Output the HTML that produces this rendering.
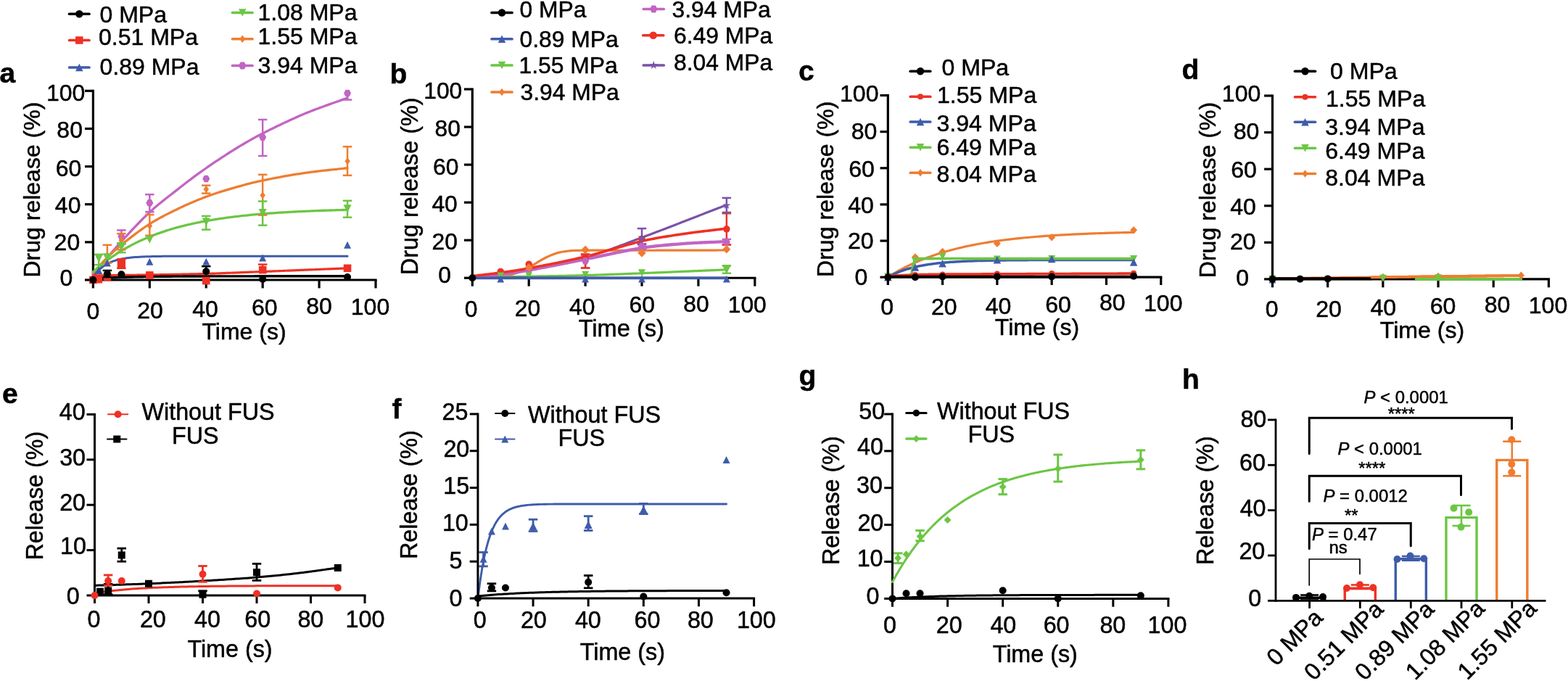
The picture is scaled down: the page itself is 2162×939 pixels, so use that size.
<!DOCTYPE html>
<html lang="en">
<head>
<meta charset="utf-8">
<title>Drug release under focused ultrasound</title>
<style>
html,body{margin:0;padding:0;background:#fff;}
body{width:2162px;height:939px;overflow:hidden;}
svg{display:block;}
svg text{font-family:"Liberation Sans", sans-serif;fill:#000;stroke:#000;stroke-width:0.5px;stroke-linejoin:round;}
</style>
</head>
<body>
<svg width="2162" height="939" viewBox="0 0 2162 939">
<rect x="0" y="0" width="2162" height="939" fill="#ffffff"/>
<line x1="128.4" y1="123.7" x2="128.4" y2="387.6" stroke="#000000" stroke-width="3.2" stroke-linecap="butt"/>
<line x1="126.8" y1="386" x2="519.6" y2="386" stroke="#000000" stroke-width="3.2" stroke-linecap="butt"/>
<line x1="117" y1="386" x2="128.4" y2="386" stroke="#000000" stroke-width="3.2" stroke-linecap="butt"/>
<line x1="117" y1="333.86" x2="128.4" y2="333.86" stroke="#000000" stroke-width="3.2" stroke-linecap="butt"/>
<line x1="117" y1="281.72" x2="128.4" y2="281.72" stroke="#000000" stroke-width="3.2" stroke-linecap="butt"/>
<line x1="117" y1="229.58" x2="128.4" y2="229.58" stroke="#000000" stroke-width="3.2" stroke-linecap="butt"/>
<line x1="117" y1="177.44" x2="128.4" y2="177.44" stroke="#000000" stroke-width="3.2" stroke-linecap="butt"/>
<line x1="117" y1="125.3" x2="128.4" y2="125.3" stroke="#000000" stroke-width="3.2" stroke-linecap="butt"/>
<line x1="128.4" y1="386" x2="128.4" y2="397.4" stroke="#000000" stroke-width="3.2" stroke-linecap="butt"/>
<line x1="206.32" y1="386" x2="206.32" y2="397.4" stroke="#000000" stroke-width="3.2" stroke-linecap="butt"/>
<line x1="284.24" y1="386" x2="284.24" y2="397.4" stroke="#000000" stroke-width="3.2" stroke-linecap="butt"/>
<line x1="362.16" y1="386" x2="362.16" y2="397.4" stroke="#000000" stroke-width="3.2" stroke-linecap="butt"/>
<line x1="440.08" y1="386" x2="440.08" y2="397.4" stroke="#000000" stroke-width="3.2" stroke-linecap="butt"/>
<line x1="518" y1="386" x2="518" y2="397.4" stroke="#000000" stroke-width="3.2" stroke-linecap="butt"/>
<path d="M128.4,378.18 L131.32,374.78 L134.24,371.37 L137.17,367.94 L140.09,364.5 L143.01,361.06 L145.93,357.62 L148.85,354.19 L151.78,350.78 L154.7,347.39 L157.62,344.02 L160.54,340.69 L163.46,337.4 L166.39,334.15 L169.31,330.94 L172.23,327.74 L175.15,324.56 L178.07,321.39 L181,318.25 L183.92,315.13 L186.84,312.04 L189.76,308.99 L192.68,305.99 L195.61,303.03 L198.53,300.13 L201.45,297.28 L204.37,294.49 L207.29,291.77 L210.22,289.13 L213.14,286.56 L216.06,284.06 L218.98,281.61 L221.9,279.21 L224.83,276.86 L227.75,274.54 L230.67,272.24 L233.59,269.96 L236.51,267.69 L239.44,265.42 L242.36,263.15 L245.28,260.86 L248.2,258.57 L251.12,256.29 L254.05,254.02 L256.97,251.77 L259.89,249.54 L262.81,247.32 L265.73,245.12 L268.66,242.95 L271.58,240.8 L274.5,238.68 L277.42,236.58 L280.34,234.52 L283.27,232.48 L286.19,230.45 L289.11,228.43 L292.03,226.43 L294.95,224.44 L297.88,222.47 L300.8,220.52 L303.72,218.58 L306.64,216.66 L309.56,214.76 L312.49,212.87 L315.41,211 L318.33,209.16 L321.25,207.33 L324.17,205.52 L327.1,203.72 L330.02,201.95 L332.94,200.2 L335.86,198.46 L338.78,196.75 L341.71,195.06 L344.63,193.39 L347.55,191.75 L350.47,190.14 L353.39,188.55 L356.32,186.99 L359.24,185.46 L362.16,183.96 L365.08,182.48 L368,181 L370.93,179.54 L373.85,178.09 L376.77,176.65 L379.69,175.22 L382.61,173.8 L385.54,172.39 L388.46,171 L391.38,169.62 L394.3,168.25 L397.22,166.9 L400.15,165.55 L403.07,164.23 L405.99,162.91 L408.91,161.62 L411.83,160.33 L414.76,159.07 L417.68,157.82 L420.6,156.58 L423.52,155.37 L426.44,154.19 L429.37,153.03 L432.29,151.89 L435.21,150.77 L438.13,149.67 L441.05,148.59 L443.98,147.52 L446.9,146.46 L449.82,145.41 L452.74,144.36 L455.66,143.33 L458.59,142.29 L461.51,141.26 L464.43,140.22 L467.35,139.18 L470.27,138.14 L473.2,137.08 L476.12,136.02 L479.04,134.95" fill="none" stroke="#c264c4" stroke-width="3.3" stroke-linecap="round" stroke-linejoin="round"/>
<path d="M128.4,376.09 L131.32,372.94 L134.24,369.74 L137.17,366.53 L140.09,363.35 L143.01,360.23 L145.93,357.2 L148.85,354.28 L151.78,351.42 L154.7,348.62 L157.62,345.9 L160.54,343.26 L163.46,340.72 L166.39,338.29 L169.31,335.96 L172.23,333.66 L175.15,331.36 L178.07,329.08 L181,326.83 L183.92,324.6 L186.84,322.4 L189.76,320.24 L192.68,318.11 L195.61,316.03 L198.53,314 L201.45,312.01 L204.37,310.08 L207.29,308.22 L210.22,306.41 L213.14,304.66 L216.06,302.97 L218.98,301.33 L221.9,299.73 L224.83,298.17 L227.75,296.64 L230.67,295.15 L233.59,293.68 L236.51,292.23 L239.44,290.8 L242.36,289.39 L245.28,287.98 L248.2,286.58 L251.12,285.21 L254.05,283.86 L256.97,282.53 L259.89,281.23 L262.81,279.95 L265.73,278.7 L268.66,277.47 L271.58,276.26 L274.5,275.07 L277.42,273.91 L280.34,272.77 L283.27,271.66 L286.19,270.57 L289.11,269.51 L292.03,268.48 L294.95,267.48 L297.88,266.5 L300.8,265.55 L303.72,264.61 L306.64,263.7 L309.56,262.8 L312.49,261.92 L315.41,261.05 L318.33,260.19 L321.25,259.34 L324.17,258.5 L327.1,257.67 L330.02,256.84 L332.94,256.04 L335.86,255.24 L338.78,254.46 L341.71,253.69 L344.63,252.94 L347.55,252.21 L350.47,251.5 L353.39,250.81 L356.32,250.14 L359.24,249.49 L362.16,248.87 L365.08,248.27 L368,247.67 L370.93,247.08 L373.85,246.5 L376.77,245.93 L379.69,245.37 L382.61,244.81 L385.54,244.27 L388.46,243.73 L391.38,243.21 L394.3,242.69 L397.22,242.18 L400.15,241.68 L403.07,241.19 L405.99,240.71 L408.91,240.24 L411.83,239.78 L414.76,239.32 L417.68,238.88 L420.6,238.44 L423.52,238.02 L426.44,237.62 L429.37,237.23 L432.29,236.85 L435.21,236.49 L438.13,236.14 L441.05,235.8 L443.98,235.47 L446.9,235.15 L449.82,234.83 L452.74,234.51 L455.66,234.2 L458.59,233.89 L461.51,233.58 L464.43,233.27 L467.35,232.96 L470.27,232.65 L473.2,232.33 L476.12,232 L479.04,231.67" fill="none" stroke="#ee7d31" stroke-width="3.3" stroke-linecap="round" stroke-linejoin="round"/>
<path d="M128.4,374.79 L131.32,372.19 L134.24,369.67 L137.17,367.23 L140.09,364.86 L143.01,362.55 L145.93,360.32 L148.85,358.15 L151.78,356.04 L154.7,354 L157.62,352.02 L160.54,350.1 L163.46,348.23 L166.39,346.42 L169.31,344.66 L172.23,342.95 L175.15,341.3 L178.07,339.69 L181,338.13 L183.92,336.62 L186.84,335.15 L189.76,333.73 L192.68,332.34 L195.61,331 L198.53,329.7 L201.45,328.43 L204.37,327.21 L207.29,326.02 L210.22,324.86 L213.14,323.74 L216.06,322.65 L218.98,321.6 L221.9,320.57 L224.83,319.58 L227.75,318.61 L230.67,317.68 L233.59,316.77 L236.51,315.89 L239.44,315.03 L242.36,314.2 L245.28,313.4 L248.2,312.61 L251.12,311.85 L254.05,311.12 L256.97,310.4 L259.89,309.71 L262.81,309.04 L265.73,308.38 L268.66,307.75 L271.58,307.13 L274.5,306.54 L277.42,305.96 L280.34,305.4 L283.27,304.85 L286.19,304.32 L289.11,303.81 L292.03,303.31 L294.95,302.82 L297.88,302.35 L300.8,301.9 L303.72,301.46 L306.64,301.03 L309.56,300.61 L312.49,300.21 L315.41,299.81 L318.33,299.43 L321.25,299.06 L324.17,298.71 L327.1,298.36 L330.02,298.02 L332.94,297.69 L335.86,297.37 L338.78,297.07 L341.71,296.77 L344.63,296.48 L347.55,296.19 L350.47,295.92 L353.39,295.65 L356.32,295.4 L359.24,295.15 L362.16,294.9 L365.08,294.67 L368,294.44 L370.93,294.22 L373.85,294 L376.77,293.79 L379.69,293.59 L382.61,293.39 L385.54,293.2 L388.46,293.02 L391.38,292.84 L394.3,292.66 L397.22,292.49 L400.15,292.33 L403.07,292.17 L405.99,292.02 L408.91,291.87 L411.83,291.72 L414.76,291.58 L417.68,291.44 L420.6,291.31 L423.52,291.18 L426.44,291.05 L429.37,290.93 L432.29,290.81 L435.21,290.7 L438.13,290.59 L441.05,290.48 L443.98,290.37 L446.9,290.27 L449.82,290.17 L452.74,290.08 L455.66,289.99 L458.59,289.9 L461.51,289.81 L464.43,289.72 L467.35,289.64 L470.27,289.56 L473.2,289.48 L476.12,289.41 L479.04,289.33" fill="none" stroke="#6cc644" stroke-width="3.3" stroke-linecap="round" stroke-linejoin="round"/>
<path d="M128.4,382.09 L131.32,378.06 L134.24,374.59 L137.17,371.6 L140.09,369.03 L143.01,366.82 L145.93,364.92 L148.85,363.28 L151.78,361.87 L154.7,360.65 L157.62,359.61 L160.54,358.71 L163.46,357.94 L166.39,357.27 L169.31,356.7 L172.23,356.2 L175.15,355.78 L178.07,355.41 L181,355.1 L183.92,354.83 L186.84,354.59 L189.76,354.39 L192.68,354.22 L195.61,354.07 L198.53,353.94 L201.45,353.83 L204.37,353.74 L207.29,353.66 L210.22,353.59 L213.14,353.53 L216.06,353.47 L218.98,353.43 L221.9,353.39 L224.83,353.36 L227.75,353.33 L230.67,353.3 L233.59,353.28 L236.51,353.26 L239.44,353.25 L242.36,353.24 L245.28,353.22 L248.2,353.21 L251.12,353.2 L254.05,353.2 L256.97,353.19 L259.89,353.19 L262.81,353.18 L265.73,353.18 L268.66,353.17 L271.58,353.17 L274.5,353.17 L277.42,353.17 L280.34,353.16 L283.27,353.16 L286.19,353.16 L289.11,353.16 L292.03,353.16 L294.95,353.16 L297.88,353.16 L300.8,353.16 L303.72,353.16 L306.64,353.15 L309.56,353.15 L312.49,353.15 L315.41,353.15 L318.33,353.15 L321.25,353.15 L324.17,353.15 L327.1,353.15 L330.02,353.15 L332.94,353.15 L335.86,353.15 L338.78,353.15 L341.71,353.15 L344.63,353.15 L347.55,353.15 L350.47,353.15 L353.39,353.15 L356.32,353.15 L359.24,353.15 L362.16,353.15 L365.08,353.15 L368,353.15 L370.93,353.15 L373.85,353.15 L376.77,353.15 L379.69,353.15 L382.61,353.15 L385.54,353.15 L388.46,353.15 L391.38,353.15 L394.3,353.15 L397.22,353.15 L400.15,353.15 L403.07,353.15 L405.99,353.15 L408.91,353.15 L411.83,353.15 L414.76,353.15 L417.68,353.15 L420.6,353.15 L423.52,353.15 L426.44,353.15 L429.37,353.15 L432.29,353.15 L435.21,353.15 L438.13,353.15 L441.05,353.15 L443.98,353.15 L446.9,353.15 L449.82,353.15 L452.74,353.15 L455.66,353.15 L458.59,353.15 L461.51,353.15 L464.43,353.15 L467.35,353.15 L470.27,353.15 L473.2,353.15 L476.12,353.15 L479.04,353.15" fill="none" stroke="#3f5caa" stroke-width="3" stroke-linecap="round" stroke-linejoin="round"/>
<path d="M128.4,380 L131.32,379.97 L134.24,379.93 L137.17,379.89 L140.09,379.85 L143.01,379.82 L145.93,379.78 L148.85,379.74 L151.78,379.71 L154.7,379.67 L157.62,379.64 L160.54,379.6 L163.46,379.56 L166.39,379.53 L169.31,379.49 L172.23,379.45 L175.15,379.42 L178.07,379.38 L181,379.34 L183.92,379.3 L186.84,379.26 L189.76,379.22 L192.68,379.17 L195.61,379.13 L198.53,379.09 L201.45,379.04 L204.37,378.99 L207.29,378.94 L210.22,378.9 L213.14,378.85 L216.06,378.8 L218.98,378.75 L221.9,378.7 L224.83,378.65 L227.75,378.6 L230.67,378.55 L233.59,378.5 L236.51,378.45 L239.44,378.4 L242.36,378.35 L245.28,378.29 L248.2,378.24 L251.12,378.18 L254.05,378.12 L256.97,378.06 L259.89,378 L262.81,377.94 L265.73,377.87 L268.66,377.8 L271.58,377.73 L274.5,377.66 L277.42,377.58 L280.34,377.51 L283.27,377.42 L286.19,377.34 L289.11,377.25 L292.03,377.16 L294.95,377.07 L297.88,376.98 L300.8,376.88 L303.72,376.78 L306.64,376.68 L309.56,376.57 L312.49,376.47 L315.41,376.36 L318.33,376.25 L321.25,376.14 L324.17,376.03 L327.1,375.91 L330.02,375.8 L332.94,375.68 L335.86,375.57 L338.78,375.45 L341.71,375.34 L344.63,375.22 L347.55,375.1 L350.47,374.99 L353.39,374.87 L356.32,374.76 L359.24,374.64 L362.16,374.53 L365.08,374.42 L368,374.3 L370.93,374.19 L373.85,374.07 L376.77,373.96 L379.69,373.84 L382.61,373.73 L385.54,373.61 L388.46,373.49 L391.38,373.38 L394.3,373.26 L397.22,373.14 L400.15,373.03 L403.07,372.91 L405.99,372.79 L408.91,372.67 L411.83,372.56 L414.76,372.44 L417.68,372.32 L420.6,372.2 L423.52,372.08 L426.44,371.97 L429.37,371.85 L432.29,371.73 L435.21,371.61 L438.13,371.49 L441.05,371.37 L443.98,371.25 L446.9,371.14 L449.82,371.02 L452.74,370.9 L455.66,370.78 L458.59,370.66 L461.51,370.54 L464.43,370.43 L467.35,370.31 L470.27,370.19 L473.2,370.07 L476.12,369.95 L479.04,369.84" fill="none" stroke="#ee3124" stroke-width="3.2" stroke-linecap="round" stroke-linejoin="round"/>
<path d="M140.09,383.66 L142.91,383.5 L145.74,383.34 L148.56,383.2 L151.39,383.06 L154.21,382.93 L157.04,382.81 L159.86,382.7 L162.68,382.59 L165.51,382.49 L168.33,382.39 L171.16,382.3 L173.98,382.22 L176.81,382.14 L179.63,382.06 L182.46,381.99 L185.28,381.92 L188.11,381.86 L190.93,381.8 L193.76,381.74 L196.58,381.69 L199.4,381.64 L202.23,381.59 L205.05,381.54 L207.88,381.5 L210.7,381.46 L213.53,381.42 L216.35,381.39 L219.18,381.35 L222,381.32 L224.83,381.29 L227.65,381.26 L230.48,381.23 L233.3,381.21 L236.12,381.19 L238.95,381.16 L241.77,381.14 L244.6,381.12 L247.42,381.1 L250.25,381.08 L253.07,381.07 L255.9,381.05 L258.72,381.04 L261.55,381.02 L264.37,381.01 L267.19,381 L270.02,380.99 L272.84,380.97 L275.67,380.96 L278.49,380.95 L281.32,380.94 L284.14,380.94 L286.97,380.93 L289.79,380.92 L292.62,380.91 L295.44,380.9 L298.27,380.9 L301.09,380.89 L303.91,380.89 L306.74,380.88 L309.56,380.87 L312.39,380.87 L315.21,380.86 L318.04,380.86 L320.86,380.86 L323.69,380.85 L326.51,380.85 L329.34,380.84 L332.16,380.84 L334.99,380.84 L337.81,380.84 L340.63,380.83 L343.46,380.83 L346.28,380.83 L349.11,380.83 L351.93,380.82 L354.76,380.82 L357.58,380.82 L360.41,380.82 L363.23,380.82 L366.06,380.81 L368.88,380.81 L371.71,380.81 L374.53,380.81 L377.35,380.81 L380.18,380.81 L383,380.81 L385.83,380.8 L388.65,380.8 L391.48,380.8 L394.3,380.8 L397.13,380.8 L399.95,380.8 L402.78,380.8 L405.6,380.8 L408.42,380.8 L411.25,380.8 L414.07,380.8 L416.9,380.8 L419.72,380.8 L422.55,380.79 L425.37,380.79 L428.2,380.79 L431.02,380.79 L433.85,380.79 L436.67,380.79 L439.5,380.79 L442.32,380.79 L445.14,380.79 L447.97,380.79 L450.79,380.79 L453.62,380.79 L456.44,380.79 L459.27,380.79 L462.09,380.79 L464.92,380.79 L467.74,380.79 L470.57,380.79 L473.39,380.79 L476.22,380.79 L479.04,380.79" fill="none" stroke="#000000" stroke-width="3.4" stroke-linecap="round" stroke-linejoin="round"/>
<line x1="167.36" y1="317.44" x2="167.36" y2="336.47" stroke="#c264c4" stroke-width="2.5" stroke-linecap="butt"/>
<line x1="161.11" y1="317.44" x2="173.61" y2="317.44" stroke="#c264c4" stroke-width="2.5" stroke-linecap="butt"/>
<line x1="161.11" y1="336.47" x2="173.61" y2="336.47" stroke="#c264c4" stroke-width="2.5" stroke-linecap="butt"/>
<polygon points="172.36,326.04 169.86,330.79 164.86,330.79 162.36,326.04 164.86,321.29 169.86,321.29" fill="#c264c4"/>
<line x1="206.32" y1="268.16" x2="206.32" y2="292.15" stroke="#c264c4" stroke-width="2.5" stroke-linecap="butt"/>
<line x1="200.07" y1="268.16" x2="212.57" y2="268.16" stroke="#c264c4" stroke-width="2.5" stroke-linecap="butt"/>
<line x1="200.07" y1="292.15" x2="212.57" y2="292.15" stroke="#c264c4" stroke-width="2.5" stroke-linecap="butt"/>
<polygon points="211.32,279.63 208.82,284.38 203.82,284.38 201.32,279.63 203.82,274.88 208.82,274.88" fill="#c264c4"/>
<polygon points="289.24,246.53 286.74,251.28 281.74,251.28 279.24,246.53 281.74,241.78 286.74,241.78" fill="#c264c4"/>
<line x1="362.16" y1="164.93" x2="362.16" y2="214.98" stroke="#c264c4" stroke-width="2.5" stroke-linecap="butt"/>
<line x1="355.91" y1="164.93" x2="368.41" y2="164.93" stroke="#c264c4" stroke-width="2.5" stroke-linecap="butt"/>
<line x1="355.91" y1="214.98" x2="368.41" y2="214.98" stroke="#c264c4" stroke-width="2.5" stroke-linecap="butt"/>
<polygon points="367.16,189.17 364.66,193.92 359.66,193.92 357.16,189.17 359.66,184.42 364.66,184.42" fill="#c264c4"/>
<line x1="479.04" y1="128.43" x2="479.04" y2="137.55" stroke="#c264c4" stroke-width="2.5" stroke-linecap="butt"/>
<line x1="472.79" y1="137.55" x2="485.29" y2="137.55" stroke="#c264c4" stroke-width="2.5" stroke-linecap="butt"/>
<polygon points="484.04,128.43 481.54,133.18 476.54,133.18 474.04,128.43 476.54,123.68 481.54,123.68" fill="#c264c4"/>
<line x1="147.88" y1="337.77" x2="147.88" y2="362.54" stroke="#ee7d31" stroke-width="2.5" stroke-linecap="butt"/>
<line x1="141.63" y1="337.77" x2="154.13" y2="337.77" stroke="#ee7d31" stroke-width="2.5" stroke-linecap="butt"/>
<line x1="141.63" y1="362.54" x2="154.13" y2="362.54" stroke="#ee7d31" stroke-width="2.5" stroke-linecap="butt"/>
<polygon points="147.88,347.11 151.63,352.11 147.88,357.11 144.13,352.11" fill="#ee7d31"/>
<line x1="167.36" y1="322.13" x2="167.36" y2="344.29" stroke="#ee7d31" stroke-width="2.5" stroke-linecap="butt"/>
<line x1="161.11" y1="322.13" x2="173.61" y2="322.13" stroke="#ee7d31" stroke-width="2.5" stroke-linecap="butt"/>
<line x1="161.11" y1="344.29" x2="173.61" y2="344.29" stroke="#ee7d31" stroke-width="2.5" stroke-linecap="butt"/>
<polygon points="167.36,326.25 171.11,331.25 167.36,336.25 163.61,331.25" fill="#ee7d31"/>
<line x1="206.32" y1="296.06" x2="206.32" y2="324.74" stroke="#ee7d31" stroke-width="2.5" stroke-linecap="butt"/>
<line x1="200.07" y1="296.06" x2="212.57" y2="296.06" stroke="#ee7d31" stroke-width="2.5" stroke-linecap="butt"/>
<line x1="200.07" y1="324.74" x2="212.57" y2="324.74" stroke="#ee7d31" stroke-width="2.5" stroke-linecap="butt"/>
<polygon points="206.32,306.44 210.07,311.44 206.32,316.44 202.57,311.44" fill="#ee7d31"/>
<line x1="284.24" y1="255.65" x2="284.24" y2="266.6" stroke="#ee7d31" stroke-width="2.5" stroke-linecap="butt"/>
<line x1="277.99" y1="255.65" x2="290.49" y2="255.65" stroke="#ee7d31" stroke-width="2.5" stroke-linecap="butt"/>
<line x1="277.99" y1="266.6" x2="290.49" y2="266.6" stroke="#ee7d31" stroke-width="2.5" stroke-linecap="butt"/>
<polygon points="284.24,256.12 287.99,261.12 284.24,266.12 280.49,261.12" fill="#ee7d31"/>
<line x1="362.16" y1="240.79" x2="362.16" y2="296.58" stroke="#ee7d31" stroke-width="2.5" stroke-linecap="butt"/>
<line x1="355.91" y1="240.79" x2="368.41" y2="240.79" stroke="#ee7d31" stroke-width="2.5" stroke-linecap="butt"/>
<line x1="355.91" y1="296.58" x2="368.41" y2="296.58" stroke="#ee7d31" stroke-width="2.5" stroke-linecap="butt"/>
<polygon points="362.16,264.21 365.91,269.21 362.16,274.21 358.41,269.21" fill="#ee7d31"/>
<line x1="479.04" y1="202.21" x2="479.04" y2="241.83" stroke="#ee7d31" stroke-width="2.5" stroke-linecap="butt"/>
<line x1="472.79" y1="202.21" x2="485.29" y2="202.21" stroke="#ee7d31" stroke-width="2.5" stroke-linecap="butt"/>
<line x1="472.79" y1="241.83" x2="485.29" y2="241.83" stroke="#ee7d31" stroke-width="2.5" stroke-linecap="butt"/>
<polygon points="479.04,217.28 482.79,222.28 479.04,227.28 475.29,222.28" fill="#ee7d31"/>
<line x1="136.19" y1="350.81" x2="136.19" y2="365.14" stroke="#6cc644" stroke-width="2.5" stroke-linecap="butt"/>
<line x1="129.94" y1="350.81" x2="142.44" y2="350.81" stroke="#6cc644" stroke-width="2.5" stroke-linecap="butt"/>
<line x1="129.94" y1="365.14" x2="142.44" y2="365.14" stroke="#6cc644" stroke-width="2.5" stroke-linecap="butt"/>
<polygon points="136.19,362.02 142.19,350.02 130.19,350.02" fill="#6cc644"/>
<polygon points="147.88,361.24 153.88,349.24 141.88,349.24" fill="#6cc644"/>
<line x1="167.36" y1="335.16" x2="167.36" y2="348.2" stroke="#6cc644" stroke-width="2.5" stroke-linecap="butt"/>
<line x1="161.11" y1="335.16" x2="173.61" y2="335.16" stroke="#6cc644" stroke-width="2.5" stroke-linecap="butt"/>
<line x1="161.11" y1="348.2" x2="173.61" y2="348.2" stroke="#6cc644" stroke-width="2.5" stroke-linecap="butt"/>
<polygon points="167.36,346.38 173.36,334.38 161.36,334.38" fill="#6cc644"/>
<polygon points="206.32,335.71 211.82,324.71 200.82,324.71" fill="#6cc644"/>
<line x1="284.24" y1="297.88" x2="284.24" y2="316.65" stroke="#6cc644" stroke-width="2.5" stroke-linecap="butt"/>
<line x1="277.99" y1="297.88" x2="290.49" y2="297.88" stroke="#6cc644" stroke-width="2.5" stroke-linecap="butt"/>
<line x1="277.99" y1="316.65" x2="290.49" y2="316.65" stroke="#6cc644" stroke-width="2.5" stroke-linecap="butt"/>
<polygon points="284.24,311.47 289.74,300.47 278.74,300.47" fill="#6cc644"/>
<line x1="362.16" y1="277.55" x2="362.16" y2="310.66" stroke="#6cc644" stroke-width="2.5" stroke-linecap="butt"/>
<line x1="355.91" y1="277.55" x2="368.41" y2="277.55" stroke="#6cc644" stroke-width="2.5" stroke-linecap="butt"/>
<line x1="355.91" y1="310.66" x2="368.41" y2="310.66" stroke="#6cc644" stroke-width="2.5" stroke-linecap="butt"/>
<polygon points="362.16,298.95 367.66,287.95 356.66,287.95" fill="#6cc644"/>
<line x1="479.04" y1="276.77" x2="479.04" y2="299.71" stroke="#6cc644" stroke-width="2.5" stroke-linecap="butt"/>
<line x1="472.79" y1="276.77" x2="485.29" y2="276.77" stroke="#6cc644" stroke-width="2.5" stroke-linecap="butt"/>
<line x1="472.79" y1="299.71" x2="485.29" y2="299.71" stroke="#6cc644" stroke-width="2.5" stroke-linecap="butt"/>
<polygon points="479.04,293.22 484.54,282.22 473.54,282.22" fill="#6cc644"/>
<polygon points="136.19,367.96 141.19,377.96 131.19,377.96" fill="#3f5caa"/>
<polygon points="147.88,357.54 152.88,367.54 142.88,367.54" fill="#3f5caa"/>
<polygon points="206.32,355.71 211.32,365.71 201.32,365.71" fill="#3f5caa"/>
<polygon points="284.24,355.71 289.24,365.71 279.24,365.71" fill="#3f5caa"/>
<polygon points="362.16,350.5 367.16,360.5 357.16,360.5" fill="#3f5caa"/>
<polygon points="479.04,332.77 484.04,342.77 474.04,342.77" fill="#3f5caa"/>
<rect x="123.1" y="380.7" width="10.6" height="10.6" fill="#ee3124"/>
<rect x="131.19" y="380.48" width="10" height="10" fill="#ee3124"/>
<rect x="142.58" y="376.79" width="10.6" height="10.6" fill="#ee3124"/>
<line x1="167.36" y1="357.32" x2="167.36" y2="369.84" stroke="#ee3124" stroke-width="2.5" stroke-linecap="butt"/>
<line x1="161.11" y1="357.32" x2="173.61" y2="357.32" stroke="#ee3124" stroke-width="2.5" stroke-linecap="butt"/>
<line x1="161.11" y1="369.84" x2="173.61" y2="369.84" stroke="#ee3124" stroke-width="2.5" stroke-linecap="butt"/>
<rect x="161.76" y="357.98" width="11.2" height="11.2" fill="#ee3124"/>
<rect x="201.02" y="374.18" width="10.6" height="10.6" fill="#ee3124"/>
<rect x="278.94" y="381.74" width="10.6" height="10.6" fill="#ee3124"/>
<line x1="362.16" y1="364.62" x2="362.16" y2="372.18" stroke="#ee3124" stroke-width="2.5" stroke-linecap="butt"/>
<line x1="355.91" y1="364.62" x2="368.41" y2="364.62" stroke="#ee3124" stroke-width="2.5" stroke-linecap="butt"/>
<rect x="356.86" y="366.88" width="10.6" height="10.6" fill="#ee3124"/>
<rect x="473.74" y="364.54" width="10.6" height="10.6" fill="#ee3124"/>
<circle cx="128.4" cy="386" r="5" fill="#000000"/>
<line x1="147.88" y1="372.96" x2="147.88" y2="382.09" stroke="#000000" stroke-width="2.5" stroke-linecap="butt"/>
<line x1="141.63" y1="372.96" x2="154.13" y2="372.96" stroke="#000000" stroke-width="2.5" stroke-linecap="butt"/>
<line x1="141.63" y1="382.09" x2="154.13" y2="382.09" stroke="#000000" stroke-width="2.5" stroke-linecap="butt"/>
<circle cx="147.88" cy="377.66" r="5" fill="#000000"/>
<circle cx="167.36" cy="378.18" r="5" fill="#000000"/>
<line x1="284.24" y1="367.23" x2="284.24" y2="374.27" stroke="#000000" stroke-width="2.5" stroke-linecap="butt"/>
<line x1="277.99" y1="367.23" x2="290.49" y2="367.23" stroke="#000000" stroke-width="2.5" stroke-linecap="butt"/>
<circle cx="284.24" cy="374.27" r="5" fill="#000000"/>
<circle cx="362.16" cy="384.96" r="5" fill="#000000"/>
<circle cx="479.04" cy="382.09" r="5" fill="#000000"/>
<text x="90.6" y="138.7" font-size="32" text-anchor="middle">100</text>
<text x="96.15" y="190.3" font-size="32" text-anchor="middle">80</text>
<text x="94.5" y="242.9" font-size="32" text-anchor="middle">60</text>
<text x="93.65" y="294" font-size="32" text-anchor="middle">40</text>
<text x="92.4" y="345.2" font-size="32" text-anchor="middle">20</text>
<text x="91.5" y="394" font-size="32" text-anchor="middle">0</text>
<text x="128.5" y="439.7" font-size="32" text-anchor="middle">0</text>
<text x="207" y="438.6" font-size="32" text-anchor="middle">20</text>
<text x="282.95" y="436.5" font-size="32" text-anchor="middle">40</text>
<text x="364.75" y="435" font-size="32" text-anchor="middle">60</text>
<text x="440" y="432.9" font-size="32" text-anchor="middle">80</text>
<text x="510.5" y="433.7" font-size="32" text-anchor="middle">100</text>
<text x="336.5" y="468" font-size="32" text-anchor="middle">Time (s)</text>
<text x="55" y="382.5" font-size="32" transform="rotate(-90 55 382.5)">Drug release (%)</text>
<text x="-0.5" y="113.7" font-size="39" font-weight="bold">a</text>
<line x1="95.6" y1="19.25" x2="123" y2="19.25" stroke="#000000" stroke-width="3.7" stroke-linecap="round"/>
<circle cx="109.3" cy="19.25" r="5.25" fill="#000000"/>
<text x="137.5" y="30.5" font-size="32">0 MPa</text>
<line x1="95.6" y1="55.5" x2="123" y2="55.5" stroke="#ee3124" stroke-width="3.7" stroke-linecap="round"/>
<rect x="104.05" y="50.25" width="10.5" height="10.5" fill="#ee3124"/>
<text x="136" y="62" font-size="32">0.51 MPa</text>
<line x1="95.6" y1="93" x2="123" y2="93" stroke="#3f5caa" stroke-width="3.7" stroke-linecap="round"/>
<polygon points="109.3,87.75 114.55,98.25 104.05,98.25" fill="#3f5caa"/>
<text x="137.5" y="103.25" font-size="32">0.89 MPa</text>
<line x1="320.5" y1="17.5" x2="348" y2="17.5" stroke="#6cc644" stroke-width="3.7" stroke-linecap="round"/>
<polygon points="334.25,22.75 339.5,12.25 329,12.25" fill="#6cc644"/>
<text x="355.5" y="28" font-size="32">1.08 MPa</text>
<line x1="320.5" y1="53.75" x2="348" y2="53.75" stroke="#ee7d31" stroke-width="3.7" stroke-linecap="round"/>
<polygon points="334.25,48.5 338.19,53.75 334.25,59 330.31,53.75" fill="#ee7d31"/>
<text x="355.5" y="60.75" font-size="32">1.55 MPa</text>
<line x1="320.5" y1="90.5" x2="348" y2="90.5" stroke="#c264c4" stroke-width="3.7" stroke-linecap="round"/>
<polygon points="339.5,90.5 336.88,95.49 331.62,95.49 329,90.5 331.62,85.51 336.88,85.51" fill="#c264c4"/>
<text x="355.5" y="100.75" font-size="32">3.94 MPa</text>
<path d="M651.3,382.47 L654.22,382.36 L657.14,382.27 L660.06,382.19 L662.98,382.12 L665.91,382.05 L668.83,381.98 L671.75,381.9 L674.67,381.81 L677.59,381.7 L680.51,381.57 L683.43,381.41 L686.35,381.22 L689.28,380.99 L692.2,380.72 L695.12,380.38 L698.04,379.95 L700.96,379.44 L703.88,378.82 L706.8,378.1 L709.72,377.26 L712.65,376.3 L715.57,375.22 L718.49,374.02 L721.41,372.74 L724.33,371.37 L727.25,369.93 L730.17,368.42 L733.09,366.76 L736.02,364.95 L738.94,363.08 L741.86,361.21 L744.78,359.4 L747.7,357.74 L750.62,356.23 L753.54,354.78 L756.46,353.4 L759.39,352.1 L762.31,350.91 L765.23,349.83 L768.15,348.9 L771.07,348.12 L773.99,347.5 L776.91,346.99 L779.83,346.59 L782.76,346.25 L785.68,345.96 L788.6,345.69 L791.52,345.49 L794.44,345.37 L797.36,345.3 L800.28,345.27 L803.2,345.26 L806.13,345.26 L809.05,345.24 L811.97,345.23 L814.89,345.22 L817.81,345.21 L820.73,345.21 L823.65,345.2 L826.57,345.2 L829.5,345.2 L832.42,345.2 L835.34,345.2 L838.26,345.2 L841.18,345.21 L844.1,345.21 L847.02,345.22 L849.94,345.22 L852.87,345.23 L855.79,345.23 L858.71,345.24 L861.63,345.24 L864.55,345.25 L867.47,345.25 L870.39,345.25 L873.31,345.26 L876.24,345.26 L879.16,345.26 L882.08,345.26 L885,345.25 L887.92,345.25 L890.84,345.25 L893.76,345.24 L896.68,345.24 L899.61,345.23 L902.53,345.23 L905.45,345.22 L908.37,345.21 L911.29,345.21 L914.21,345.2 L917.13,345.2 L920.05,345.19 L922.98,345.18 L925.9,345.18 L928.82,345.17 L931.74,345.16 L934.66,345.16 L937.58,345.15 L940.5,345.14 L943.42,345.14 L946.35,345.13 L949.27,345.12 L952.19,345.11 L955.11,345.11 L958.03,345.1 L960.95,345.09 L963.87,345.09 L966.79,345.08 L969.72,345.07 L972.64,345.06 L975.56,345.06 L978.48,345.05 L981.4,345.04 L984.32,345.03 L987.24,345.03 L990.16,345.02 L993.09,345.01 L996.01,345.01 L998.93,345 L1001.85,344.99" fill="none" stroke="#ee7d31" stroke-width="3.2" stroke-linecap="round" stroke-linejoin="round"/>
<path d="M651.3,382.47 L654.22,382.42 L657.14,382.37 L660.06,382.32 L662.98,382.28 L665.91,382.23 L668.83,382.18 L671.75,382.13 L674.67,382.09 L677.59,382.04 L680.51,381.99 L683.43,381.95 L686.35,381.9 L689.28,381.85 L692.2,381.8 L695.12,381.76 L698.04,381.71 L700.96,381.66 L703.88,381.61 L706.8,381.56 L709.72,381.51 L712.65,381.46 L715.57,381.41 L718.49,381.36 L721.41,381.31 L724.33,381.26 L727.25,381.2 L730.17,381.15 L733.09,381.1 L736.02,381.05 L738.94,380.99 L741.86,380.94 L744.78,380.89 L747.7,380.84 L750.62,380.79 L753.54,380.74 L756.46,380.69 L759.39,380.64 L762.31,380.59 L765.23,380.54 L768.15,380.48 L771.07,380.43 L773.99,380.38 L776.91,380.32 L779.83,380.26 L782.76,380.2 L785.68,380.14 L788.6,380.07 L791.52,380.01 L794.44,379.94 L797.36,379.87 L800.28,379.79 L803.2,379.71 L806.13,379.63 L809.05,379.55 L811.97,379.46 L814.89,379.38 L817.81,379.28 L820.73,379.19 L823.65,379.09 L826.57,378.99 L829.5,378.89 L832.42,378.79 L835.34,378.69 L838.26,378.58 L841.18,378.47 L844.1,378.36 L847.02,378.25 L849.94,378.14 L852.87,378.03 L855.79,377.91 L858.71,377.8 L861.63,377.68 L864.55,377.57 L867.47,377.45 L870.39,377.33 L873.31,377.21 L876.24,377.1 L879.16,376.98 L882.08,376.86 L885,376.74 L887.92,376.63 L890.84,376.51 L893.76,376.39 L896.68,376.27 L899.61,376.15 L902.53,376.03 L905.45,375.91 L908.37,375.79 L911.29,375.67 L914.21,375.54 L917.13,375.42 L920.05,375.3 L922.98,375.18 L925.9,375.05 L928.82,374.93 L931.74,374.8 L934.66,374.68 L937.58,374.55 L940.5,374.43 L943.42,374.3 L946.35,374.18 L949.27,374.05 L952.19,373.93 L955.11,373.8 L958.03,373.68 L960.95,373.55 L963.87,373.42 L966.79,373.3 L969.72,373.17 L972.64,373.05 L975.56,372.92 L978.48,372.8 L981.4,372.67 L984.32,372.55 L987.24,372.42 L990.16,372.3 L993.09,372.17 L996.01,372.05 L998.93,371.92 L1001.85,371.8" fill="none" stroke="#6cc644" stroke-width="3.2" stroke-linecap="round" stroke-linejoin="round"/>
<line x1="651.3" y1="121.4" x2="651.3" y2="384.85" stroke="#000000" stroke-width="3.2" stroke-linecap="butt"/>
<line x1="649.7" y1="383.25" x2="1042.4" y2="383.25" stroke="#000000" stroke-width="3.2" stroke-linecap="butt"/>
<line x1="639.9" y1="383.25" x2="651.3" y2="383.25" stroke="#000000" stroke-width="3.2" stroke-linecap="butt"/>
<line x1="639.9" y1="331.2" x2="651.3" y2="331.2" stroke="#000000" stroke-width="3.2" stroke-linecap="butt"/>
<line x1="639.9" y1="279.15" x2="651.3" y2="279.15" stroke="#000000" stroke-width="3.2" stroke-linecap="butt"/>
<line x1="639.9" y1="227.1" x2="651.3" y2="227.1" stroke="#000000" stroke-width="3.2" stroke-linecap="butt"/>
<line x1="639.9" y1="175.05" x2="651.3" y2="175.05" stroke="#000000" stroke-width="3.2" stroke-linecap="butt"/>
<line x1="639.9" y1="123" x2="651.3" y2="123" stroke="#000000" stroke-width="3.2" stroke-linecap="butt"/>
<line x1="651.3" y1="383.25" x2="651.3" y2="394.65" stroke="#000000" stroke-width="3.2" stroke-linecap="butt"/>
<line x1="729.2" y1="383.25" x2="729.2" y2="394.65" stroke="#000000" stroke-width="3.2" stroke-linecap="butt"/>
<line x1="807.1" y1="383.25" x2="807.1" y2="394.65" stroke="#000000" stroke-width="3.2" stroke-linecap="butt"/>
<line x1="885" y1="383.25" x2="885" y2="394.65" stroke="#000000" stroke-width="3.2" stroke-linecap="butt"/>
<line x1="962.9" y1="383.25" x2="962.9" y2="394.65" stroke="#000000" stroke-width="3.2" stroke-linecap="butt"/>
<line x1="1040.8" y1="383.25" x2="1040.8" y2="394.65" stroke="#000000" stroke-width="3.2" stroke-linecap="butt"/>
<path d="M651.3,381.95 L654.22,381.56 L657.14,381.18 L660.06,380.81 L662.98,380.44 L665.91,380.08 L668.83,379.72 L671.75,379.37 L674.67,379.01 L677.59,378.66 L680.51,378.31 L683.43,377.95 L686.35,377.6 L689.28,377.24 L692.2,376.88 L695.12,376.51 L698.04,376.13 L700.96,375.75 L703.88,375.37 L706.8,374.97 L709.72,374.56 L712.65,374.15 L715.57,373.72 L718.49,373.28 L721.41,372.82 L724.33,372.35 L727.25,371.87 L730.17,371.37 L733.09,370.87 L736.02,370.36 L738.94,369.85 L741.86,369.34 L744.78,368.82 L747.7,368.3 L750.62,367.77 L753.54,367.23 L756.46,366.69 L759.39,366.14 L762.31,365.57 L765.23,365 L768.15,364.41 L771.07,363.82 L773.99,363.21 L776.91,362.59 L779.83,361.95 L782.76,361.29 L785.68,360.62 L788.6,359.94 L791.52,359.23 L794.44,358.51 L797.36,357.77 L800.28,357.01 L803.2,356.22 L806.13,355.42 L809.05,354.59 L811.97,353.73 L814.89,352.85 L817.81,351.95 L820.73,351.02 L823.65,350.07 L826.57,349.1 L829.5,348.11 L832.42,347.11 L835.34,346.09 L838.26,345.05 L841.18,344.01 L844.1,342.94 L847.02,341.87 L849.94,340.79 L852.87,339.7 L855.79,338.61 L858.71,337.51 L861.63,336.4 L864.55,335.29 L867.47,334.18 L870.39,333.07 L873.31,331.96 L876.24,330.85 L879.16,329.75 L882.08,328.65 L885,327.56 L887.92,326.47 L890.84,325.37 L893.76,324.27 L896.68,323.17 L899.61,322.07 L902.53,320.96 L905.45,319.85 L908.37,318.74 L911.29,317.62 L914.21,316.51 L917.13,315.39 L920.05,314.26 L922.98,313.14 L925.9,312.01 L928.82,310.89 L931.74,309.76 L934.66,308.63 L937.58,307.49 L940.5,306.36 L943.42,305.23 L946.35,304.09 L949.27,302.96 L952.19,301.82 L955.11,300.68 L958.03,299.55 L960.95,298.41 L963.87,297.27 L966.79,296.13 L969.72,294.99 L972.64,293.86 L975.56,292.72 L978.48,291.58 L981.4,290.45 L984.32,289.31 L987.24,288.18 L990.16,287.05 L993.09,285.92 L996.01,284.79 L998.93,283.66 L1001.85,282.53" fill="none" stroke="#7a52a8" stroke-width="3.2" stroke-linecap="round" stroke-linejoin="round"/>
<path d="M651.3,381.95 L654.22,381.7 L657.14,381.47 L660.06,381.24 L662.98,381.02 L665.91,380.79 L668.83,380.57 L671.75,380.34 L674.67,380.11 L677.59,379.86 L680.51,379.59 L683.43,379.31 L686.35,379.01 L689.28,378.68 L692.2,378.33 L695.12,377.96 L698.04,377.57 L700.96,377.16 L703.88,376.75 L706.8,376.31 L709.72,375.87 L712.65,375.41 L715.57,374.93 L718.49,374.45 L721.41,373.95 L724.33,373.45 L727.25,372.93 L730.17,372.4 L733.09,371.87 L736.02,371.34 L738.94,370.8 L741.86,370.25 L744.78,369.7 L747.7,369.15 L750.62,368.59 L753.54,368.03 L756.46,367.47 L759.39,366.91 L762.31,366.34 L765.23,365.77 L768.15,365.2 L771.07,364.62 L773.99,364.05 L776.91,363.47 L779.83,362.89 L782.76,362.31 L785.68,361.73 L788.6,361.15 L791.52,360.57 L794.44,359.99 L797.36,359.41 L800.28,358.83 L803.2,358.25 L806.13,357.68 L809.05,357.1 L811.97,356.51 L814.89,355.92 L817.81,355.31 L820.73,354.7 L823.65,354.09 L826.57,353.46 L829.5,352.84 L832.42,352.22 L835.34,351.59 L838.26,350.96 L841.18,350.34 L844.1,349.71 L847.02,349.1 L849.94,348.48 L852.87,347.87 L855.79,347.27 L858.71,346.68 L861.63,346.09 L864.55,345.52 L867.47,344.95 L870.39,344.4 L873.31,343.86 L876.24,343.34 L879.16,342.83 L882.08,342.34 L885,341.87 L887.92,341.42 L890.84,340.99 L893.76,340.59 L896.68,340.2 L899.61,339.84 L902.53,339.5 L905.45,339.17 L908.37,338.85 L911.29,338.56 L914.21,338.27 L917.13,338 L920.05,337.74 L922.98,337.49 L925.9,337.24 L928.82,337.01 L931.74,336.78 L934.66,336.55 L937.58,336.33 L940.5,336.11 L943.42,335.88 L946.35,335.67 L949.27,335.47 L952.19,335.29 L955.11,335.11 L958.03,334.95 L960.95,334.8 L963.87,334.65 L966.79,334.51 L969.72,334.38 L972.64,334.26 L975.56,334.14 L978.48,334.02 L981.4,333.9 L984.32,333.78 L987.24,333.66 L990.16,333.54 L993.09,333.42 L996.01,333.29 L998.93,333.16 L1001.85,333.02" fill="none" stroke="#c264c4" stroke-width="4.3" stroke-linecap="round" stroke-linejoin="round"/>
<path d="M651.3,380.65 L654.22,380.3 L657.14,379.96 L660.06,379.62 L662.98,379.28 L665.91,378.95 L668.83,378.61 L671.75,378.27 L674.67,377.93 L677.59,377.58 L680.51,377.23 L683.43,376.86 L686.35,376.48 L689.28,376.1 L692.2,375.7 L695.12,375.3 L698.04,374.89 L700.96,374.49 L703.88,374.07 L706.8,373.65 L709.72,373.22 L712.65,372.78 L715.57,372.33 L718.49,371.86 L721.41,371.37 L724.33,370.87 L727.25,370.34 L730.17,369.79 L733.09,369.24 L736.02,368.68 L738.94,368.13 L741.86,367.57 L744.78,367.01 L747.7,366.45 L750.62,365.88 L753.54,365.31 L756.46,364.74 L759.39,364.17 L762.31,363.58 L765.23,363 L768.15,362.41 L771.07,361.81 L773.99,361.21 L776.91,360.6 L779.83,359.98 L782.76,359.36 L785.68,358.73 L788.6,358.09 L791.52,357.45 L794.44,356.79 L797.36,356.13 L800.28,355.45 L803.2,354.77 L806.13,354.08 L809.05,353.37 L811.97,352.64 L814.89,351.89 L817.81,351.12 L820.73,350.33 L823.65,349.53 L826.57,348.72 L829.5,347.89 L832.42,347.05 L835.34,346.21 L838.26,345.36 L841.18,344.51 L844.1,343.65 L847.02,342.79 L849.94,341.94 L852.87,341.09 L855.79,340.24 L858.71,339.4 L861.63,338.58 L864.55,337.76 L867.47,336.95 L870.39,336.16 L873.31,335.39 L876.24,334.63 L879.16,333.9 L882.08,333.19 L885,332.5 L887.92,331.84 L890.84,331.2 L893.76,330.59 L896.68,330 L899.61,329.43 L902.53,328.87 L905.45,328.34 L908.37,327.82 L911.29,327.32 L914.21,326.83 L917.13,326.35 L920.05,325.88 L922.98,325.43 L925.9,324.98 L928.82,324.53 L931.74,324.09 L934.66,323.65 L937.58,323.22 L940.5,322.79 L943.42,322.35 L946.35,321.92 L949.27,321.51 L952.19,321.1 L955.11,320.71 L958.03,320.33 L960.95,319.95 L963.87,319.59 L966.79,319.23 L969.72,318.88 L972.64,318.53 L975.56,318.18 L978.48,317.84 L981.4,317.5 L984.32,317.16 L987.24,316.82 L990.16,316.48 L993.09,316.13 L996.01,315.78 L998.93,315.43 L1001.85,315.06" fill="none" stroke="#ee3124" stroke-width="3.6" stroke-linecap="round" stroke-linejoin="round"/>
<line x1="807.1" y1="352.02" x2="807.1" y2="369.46" stroke="#c264c4" stroke-width="2.5" stroke-linecap="butt"/>
<line x1="800.85" y1="352.02" x2="813.35" y2="352.02" stroke="#c264c4" stroke-width="2.5" stroke-linecap="butt"/>
<line x1="800.85" y1="369.46" x2="813.35" y2="369.46" stroke="#c264c4" stroke-width="2.5" stroke-linecap="butt"/>
<line x1="885" y1="337.45" x2="885" y2="343.69" stroke="#c264c4" stroke-width="2.5" stroke-linecap="butt"/>
<line x1="878.75" y1="337.45" x2="891.25" y2="337.45" stroke="#c264c4" stroke-width="2.5" stroke-linecap="butt"/>
<line x1="878.75" y1="343.69" x2="891.25" y2="343.69" stroke="#c264c4" stroke-width="2.5" stroke-linecap="butt"/>
<line x1="1001.85" y1="329.9" x2="1001.85" y2="337.45" stroke="#c264c4" stroke-width="2.5" stroke-linecap="butt"/>
<line x1="995.6" y1="329.9" x2="1008.1" y2="329.9" stroke="#c264c4" stroke-width="2.5" stroke-linecap="butt"/>
<line x1="995.6" y1="337.45" x2="1008.1" y2="337.45" stroke="#c264c4" stroke-width="2.5" stroke-linecap="butt"/>
<polygon points="694.75,375.96 692.5,380.24 688,380.24 685.75,375.96 688,371.69 692.5,371.69" fill="#c264c4"/>
<polygon points="734.2,372.32 731.7,377.07 726.7,377.07 724.2,372.32 726.7,367.57 731.7,367.57" fill="#c264c4"/>
<circle cx="690.25" cy="374.4" r="4.75" fill="#ee3124"/>
<circle cx="729.2" cy="364.25" r="4.75" fill="#ee3124"/>
<line x1="807.1" y1="350.46" x2="807.1" y2="369.46" stroke="#ee3124" stroke-width="2.5" stroke-linecap="butt"/>
<line x1="800.85" y1="350.46" x2="813.35" y2="350.46" stroke="#ee3124" stroke-width="2.5" stroke-linecap="butt"/>
<line x1="800.85" y1="369.46" x2="813.35" y2="369.46" stroke="#ee3124" stroke-width="2.5" stroke-linecap="butt"/>
<circle cx="807.1" cy="354.62" r="4.75" fill="#ee3124"/>
<circle cx="885" cy="329.38" r="4.75" fill="#ee3124"/>
<line x1="1001.85" y1="294.24" x2="1001.85" y2="337.45" stroke="#ee3124" stroke-width="2.5" stroke-linecap="butt"/>
<line x1="995.6" y1="294.24" x2="1008.1" y2="294.24" stroke="#ee3124" stroke-width="2.5" stroke-linecap="butt"/>
<line x1="995.6" y1="337.45" x2="1008.1" y2="337.45" stroke="#ee3124" stroke-width="2.5" stroke-linecap="butt"/>
<circle cx="1001.85" cy="315.85" r="4.75" fill="#ee3124"/>
<line x1="885" y1="315.06" x2="885" y2="336.4" stroke="#7a52a8" stroke-width="2.5" stroke-linecap="butt"/>
<line x1="878.75" y1="315.06" x2="891.25" y2="315.06" stroke="#7a52a8" stroke-width="2.5" stroke-linecap="butt"/>
<line x1="878.75" y1="336.4" x2="891.25" y2="336.4" stroke="#7a52a8" stroke-width="2.5" stroke-linecap="butt"/>
<polygon points="885,321.55 886.32,325.48 890.47,325.52 887.14,327.99 888.38,331.95 885,329.55 881.62,331.95 882.86,327.99 879.53,325.52 883.68,325.48" fill="#7a52a8"/>
<line x1="1001.85" y1="272.9" x2="1001.85" y2="292.94" stroke="#7a52a8" stroke-width="2.5" stroke-linecap="butt"/>
<line x1="995.6" y1="272.9" x2="1008.1" y2="272.9" stroke="#7a52a8" stroke-width="2.5" stroke-linecap="butt"/>
<line x1="995.6" y1="292.94" x2="1008.1" y2="292.94" stroke="#7a52a8" stroke-width="2.5" stroke-linecap="butt"/>
<polygon points="1001.85,277.56 1003.17,281.49 1007.32,281.54 1003.99,284.01 1005.23,287.97 1001.85,285.56 998.47,287.97 999.71,284.01 996.38,281.54 1000.53,281.49" fill="#7a52a8"/>
<polygon points="812.1,360.09 809.6,364.84 804.6,364.84 802.1,360.09 804.6,355.34 809.6,355.34" fill="#c264c4"/>
<polygon points="890,340.05 887.5,344.8 882.5,344.8 880,340.05 882.5,335.3 887.5,335.3" fill="#c264c4"/>
<polygon points="1006.85,333.8 1004.35,338.55 999.35,338.55 996.85,333.8 999.35,329.05 1004.35,329.05" fill="#c264c4"/>
<polygon points="729.2,362.93 734.66,368.68 729.2,374.43 723.74,368.68" fill="#ee7d31"/>
<polygon points="807.1,338.47 812.8,344.47 807.1,350.47 801.4,344.47" fill="#ee7d31"/>
<polygon points="885,342.64 890.7,348.64 885,354.64 879.3,348.64" fill="#ee7d31"/>
<polygon points="1001.85,337.94 1007.31,343.69 1001.85,349.44 996.39,343.69" fill="#ee7d31"/>
<polygon points="690.25,384.88 695,375.38 685.5,375.38" fill="#6cc644"/>
<polygon points="729.2,384.88 733.95,375.38 724.45,375.38" fill="#6cc644"/>
<polygon points="807.1,383.83 812.1,373.83 802.1,373.83" fill="#6cc644"/>
<polygon points="885,381.22 890,371.22 880,371.22" fill="#6cc644"/>
<line x1="1001.85" y1="366.33" x2="1001.85" y2="376.74" stroke="#6cc644" stroke-width="2.5" stroke-linecap="butt"/>
<line x1="995.6" y1="366.33" x2="1008.1" y2="366.33" stroke="#6cc644" stroke-width="2.5" stroke-linecap="butt"/>
<line x1="995.6" y1="376.74" x2="1008.1" y2="376.74" stroke="#6cc644" stroke-width="2.5" stroke-linecap="butt"/>
<polygon points="1001.85,377.54 1007.85,365.54 995.85,365.54" fill="#6cc644"/>
<path d="M651.3,383.38 L826.57,383.38 L1001.85,383.38" fill="none" stroke="#3f5caa" stroke-width="3.6" stroke-linecap="round" stroke-linejoin="round"/>
<polygon points="690.25,379.65 695.15,389.45 685.35,389.45" fill="#3f5caa"/>
<polygon points="807.1,379.65 812,389.45 802.2,389.45" fill="#3f5caa"/>
<polygon points="885,379.65 889.9,389.45 880.1,389.45" fill="#3f5caa"/>
<polygon points="1001.85,379.65 1006.75,389.45 996.95,389.45" fill="#3f5caa"/>
<circle cx="651.3" cy="383.25" r="5" fill="#000000"/>
<text x="610.75" y="136.05" font-size="31.8" text-anchor="middle">100</text>
<text x="617.25" y="188.3" font-size="31.8" text-anchor="middle">80</text>
<text x="614.75" y="240.6" font-size="31.8" text-anchor="middle">60</text>
<text x="613.12" y="292.3" font-size="31.8" text-anchor="middle">40</text>
<text x="613.25" y="343.55" font-size="31.8" text-anchor="middle">20</text>
<text x="613" y="390.2" font-size="31.8" text-anchor="middle">0</text>
<text x="649.5" y="436.6" font-size="31.8" text-anchor="middle">0</text>
<text x="727.5" y="436.3" font-size="31.8" text-anchor="middle">20</text>
<text x="802.75" y="433.8" font-size="31.8" text-anchor="middle">40</text>
<text x="885.25" y="431" font-size="31.8" text-anchor="middle">60</text>
<text x="959.92" y="429.7" font-size="31.8" text-anchor="middle">80</text>
<text x="1030.25" y="430.7" font-size="31.8" text-anchor="middle">100</text>
<text x="856.8" y="463.9" font-size="32.6" text-anchor="middle">Time (s)</text>
<text x="575.75" y="379.2" font-size="32.4" transform="rotate(-90 575.75 379.2)">Drug release (%)</text>
<text x="537.5" y="114.8" font-size="39" font-weight="bold">b</text>
<line x1="678" y1="17.5" x2="706" y2="17.5" stroke="#000000" stroke-width="3.7" stroke-linecap="round"/>
<circle cx="692" cy="17.5" r="5.25" fill="#000000"/>
<text x="716.5" y="24.05" font-size="31.8">0 MPa</text>
<line x1="678" y1="53.75" x2="706" y2="53.75" stroke="#3f5caa" stroke-width="3.7" stroke-linecap="round"/>
<polygon points="692,48.5 697.25,59 686.75,59" fill="#3f5caa"/>
<text x="716.5" y="64.8" font-size="31.8">0.89 MPa</text>
<line x1="678" y1="90" x2="706" y2="90" stroke="#6cc644" stroke-width="3.7" stroke-linecap="round"/>
<polygon points="692,95.25 697.25,84.75 686.75,84.75" fill="#6cc644"/>
<text x="715.5" y="101.05" font-size="31.8">1.55 MPa</text>
<line x1="678" y1="127" x2="706" y2="127" stroke="#ee7d31" stroke-width="3.7" stroke-linecap="round"/>
<polygon points="692,121.75 695.94,127 692,132.25 688.06,127" fill="#ee7d31"/>
<text x="717.5" y="137.8" font-size="31.8">3.94 MPa</text>
<line x1="887.25" y1="12.5" x2="915.25" y2="12.5" stroke="#c264c4" stroke-width="3.7" stroke-linecap="round"/>
<polygon points="906.5,12.5 903.88,17.49 898.62,17.49 896,12.5 898.62,7.51 903.88,7.51" fill="#c264c4"/>
<text x="926.5" y="24.05" font-size="31.8">3.94 MPa</text>
<line x1="886.75" y1="48.75" x2="914.75" y2="48.75" stroke="#ee3124" stroke-width="3.7" stroke-linecap="round"/>
<circle cx="900.75" cy="48.75" r="5.25" fill="#ee3124"/>
<text x="929" y="60.3" font-size="31.8">6.49 MPa</text>
<line x1="887.25" y1="90" x2="915.25" y2="90" stroke="#7a52a8" stroke-width="3.7" stroke-linecap="round"/>
<polygon points="901.25,83.96 902.64,88.09 906.99,88.13 903.5,90.73 904.8,94.88 901.25,92.36 897.7,94.88 899,90.73 895.51,88.13 899.86,88.09" fill="#7a52a8"/>
<text x="929" y="96.55" font-size="31.8">8.04 MPa</text>
<path d="M1224.3,382.2 L1227.12,380.4 L1229.95,378.66 L1232.77,376.96 L1235.59,375.31 L1238.42,373.71 L1241.24,372.15 L1244.06,370.64 L1246.89,369.17 L1249.71,367.74 L1252.53,366.35 L1255.36,365 L1258.18,363.68 L1261,362.41 L1263.83,361.17 L1266.65,359.96 L1269.47,358.79 L1272.3,357.65 L1275.12,356.55 L1277.94,355.47 L1280.77,354.42 L1283.59,353.41 L1286.41,352.42 L1289.24,351.46 L1292.06,350.53 L1294.88,349.62 L1297.71,348.74 L1300.53,347.89 L1303.35,347.05 L1306.18,346.25 L1309,345.46 L1311.82,344.7 L1314.65,343.95 L1317.47,343.23 L1320.29,342.53 L1323.12,341.85 L1325.94,341.19 L1328.76,340.54 L1331.59,339.92 L1334.41,339.31 L1337.23,338.72 L1340.06,338.14 L1342.88,337.58 L1345.71,337.04 L1348.53,336.51 L1351.35,336 L1354.18,335.5 L1357,335.02 L1359.82,334.55 L1362.65,334.09 L1365.47,333.65 L1368.29,333.21 L1371.12,332.79 L1373.94,332.39 L1376.76,331.99 L1379.59,331.6 L1382.41,331.23 L1385.23,330.87 L1388.06,330.51 L1390.88,330.17 L1393.7,329.83 L1396.53,329.51 L1399.35,329.19 L1402.17,328.89 L1405,328.59 L1407.82,328.3 L1410.64,328.02 L1413.47,327.74 L1416.29,327.48 L1419.11,327.22 L1421.94,326.97 L1424.76,326.72 L1427.58,326.48 L1430.41,326.25 L1433.23,326.03 L1436.05,325.81 L1438.88,325.6 L1441.7,325.39 L1444.52,325.19 L1447.35,325 L1450.17,324.81 L1452.99,324.63 L1455.82,324.45 L1458.64,324.27 L1461.46,324.11 L1464.29,323.94 L1467.11,323.78 L1469.93,323.63 L1472.76,323.48 L1475.58,323.33 L1478.4,323.19 L1481.23,323.05 L1484.05,322.92 L1486.87,322.79 L1489.7,322.66 L1492.52,322.54 L1495.34,322.42 L1498.17,322.3 L1500.99,322.19 L1503.81,322.08 L1506.64,321.97 L1509.46,321.87 L1512.28,321.76 L1515.11,321.67 L1517.93,321.57 L1520.75,321.48 L1523.58,321.39 L1526.4,321.3 L1529.22,321.22 L1532.05,321.13 L1534.87,321.05 L1537.69,320.97 L1540.52,320.9 L1543.34,320.82 L1546.16,320.75 L1548.99,320.68 L1551.81,320.62 L1554.63,320.55 L1557.46,320.49 L1560.28,320.42 L1563.11,320.36" fill="none" stroke="#ee7d31" stroke-width="3.2" stroke-linecap="round" stroke-linejoin="round"/>
<path d="M1224.3,382.2 L1227.12,380.65 L1229.95,379.19 L1232.77,377.83 L1235.59,376.56 L1238.42,375.38 L1241.24,374.27 L1244.06,373.23 L1246.89,372.26 L1249.71,371.36 L1252.53,370.51 L1255.36,369.72 L1258.18,368.98 L1261,368.29 L1263.83,367.64 L1266.65,367.04 L1269.47,366.47 L1272.3,365.94 L1275.12,365.45 L1277.94,364.99 L1280.77,364.56 L1283.59,364.15 L1286.41,363.78 L1289.24,363.43 L1292.06,363.1 L1294.88,362.79 L1297.71,362.5 L1300.53,362.23 L1303.35,361.98 L1306.18,361.75 L1309,361.53 L1311.82,361.32 L1314.65,361.13 L1317.47,360.95 L1320.29,360.78 L1323.12,360.63 L1325.94,360.48 L1328.76,360.34 L1331.59,360.22 L1334.41,360.1 L1337.23,359.98 L1340.06,359.88 L1342.88,359.78 L1345.71,359.69 L1348.53,359.61 L1351.35,359.53 L1354.18,359.45 L1357,359.38 L1359.82,359.32 L1362.65,359.26 L1365.47,359.2 L1368.29,359.15 L1371.12,359.1 L1373.94,359.05 L1376.76,359.01 L1379.59,358.97 L1382.41,358.93 L1385.23,358.89 L1388.06,358.86 L1390.88,358.83 L1393.7,358.8 L1396.53,358.77 L1399.35,358.75 L1402.17,358.72 L1405,358.7 L1407.82,358.68 L1410.64,358.66 L1413.47,358.64 L1416.29,358.63 L1419.11,358.61 L1421.94,358.59 L1424.76,358.58 L1427.58,358.57 L1430.41,358.56 L1433.23,358.54 L1436.05,358.53 L1438.88,358.52 L1441.7,358.52 L1444.52,358.51 L1447.35,358.5 L1450.17,358.49 L1452.99,358.48 L1455.82,358.48 L1458.64,358.47 L1461.46,358.47 L1464.29,358.46 L1467.11,358.46 L1469.93,358.45 L1472.76,358.45 L1475.58,358.44 L1478.4,358.44 L1481.23,358.43 L1484.05,358.43 L1486.87,358.43 L1489.7,358.43 L1492.52,358.42 L1495.34,358.42 L1498.17,358.42 L1500.99,358.42 L1503.81,358.41 L1506.64,358.41 L1509.46,358.41 L1512.28,358.41 L1515.11,358.41 L1517.93,358.4 L1520.75,358.4 L1523.58,358.4 L1526.4,358.4 L1529.22,358.4 L1532.05,358.4 L1534.87,358.4 L1537.69,358.4 L1540.52,358.4 L1543.34,358.4 L1546.16,358.39 L1548.99,358.39 L1551.81,358.39 L1554.63,358.39 L1557.46,358.39 L1560.28,358.39 L1563.11,358.39" fill="none" stroke="#3f5caa" stroke-width="3.5" stroke-linecap="round" stroke-linejoin="round"/>
<path d="M1256.67,379.19 L1257.7,372.82 L1258.72,367.47 L1259.74,363.5 L1260.76,360.51 L1261.78,358.77 L1262.8,357.87 L1263.82,357.44 L1264.85,357.16 L1265.87,356.89 L1266.89,356.73 L1267.91,356.65 L1268.93,356.63 L1269.95,356.63 L1270.97,356.63 L1272,356.62 L1273.02,356.62 L1274.04,356.61 L1275.06,356.61 L1276.08,356.61 L1277.1,356.6 L1278.12,356.6 L1279.15,356.6 L1280.17,356.59 L1281.19,356.59 L1282.21,356.59 L1283.23,356.58 L1284.25,356.58 L1285.27,356.58 L1286.3,356.58 L1287.32,356.57 L1288.34,356.57 L1289.36,356.57 L1290.38,356.57 L1291.4,356.57 L1292.42,356.57 L1293.45,356.57 L1294.47,356.56 L1295.49,356.56 L1296.51,356.56 L1297.53,356.56 L1298.55,356.56 L1299.57,356.56 L1300.6,356.56 L1301.62,356.56 L1302.64,356.56 L1303.66,356.56 L1304.68,356.56 L1305.7,356.56 L1306.72,356.56 L1307.75,356.56 L1308.77,356.56 L1309.79,356.56 L1310.81,356.56 L1311.83,356.56 L1312.85,356.56 L1313.88,356.56 L1314.9,356.56 L1315.92,356.56 L1316.94,356.56 L1317.96,356.56 L1318.98,356.57 L1320,356.57 L1321.03,356.57 L1322.05,356.57 L1323.07,356.57 L1324.09,356.57 L1325.11,356.57 L1326.13,356.57 L1327.15,356.57 L1328.18,356.58 L1329.2,356.58 L1330.22,356.58 L1331.24,356.58 L1332.26,356.58 L1333.28,356.58 L1334.3,356.58 L1335.33,356.59 L1336.35,356.59 L1337.37,356.59 L1338.39,356.59 L1339.41,356.59 L1340.43,356.59 L1341.45,356.6 L1342.48,356.6 L1343.5,356.6 L1344.52,356.6 L1345.54,356.6 L1346.56,356.6 L1347.58,356.6 L1348.6,356.61 L1349.63,356.61 L1350.65,356.61 L1351.67,356.61 L1352.69,356.61 L1353.71,356.61 L1354.73,356.61 L1355.75,356.62 L1356.78,356.62 L1357.8,356.62 L1358.82,356.62 L1359.84,356.62 L1360.86,356.62 L1361.88,356.62 L1362.9,356.62 L1363.93,356.62 L1364.95,356.62 L1365.97,356.63 L1366.99,356.63 L1368.01,356.63 L1369.03,356.63 L1370.05,356.63 L1371.08,356.63 L1372.1,356.63 L1373.12,356.63 L1374.14,356.63 L1375.16,356.63 L1376.18,356.63 L1377.2,356.63 L1378.23,356.63 L1379.25,356.63 L1380.27,356.63 L1381.29,356.63 L1382.31,356.63 L1383.33,356.63 L1384.35,356.63 L1385.38,356.63 L1386.4,356.63 L1387.42,356.63 L1388.44,356.63 L1389.46,356.63 L1390.48,356.63 L1391.5,356.63 L1392.53,356.63 L1393.55,356.63 L1394.57,356.63 L1395.59,356.63 L1396.61,356.63 L1397.63,356.63 L1398.65,356.63 L1399.68,356.63 L1400.7,356.63 L1401.72,356.63 L1402.74,356.63 L1403.76,356.63 L1404.78,356.63 L1405.8,356.63 L1406.83,356.63 L1407.85,356.63 L1408.87,356.63 L1409.89,356.63 L1410.91,356.63 L1411.93,356.63 L1412.95,356.63 L1413.98,356.63 L1415,356.63 L1416.02,356.63 L1417.04,356.63 L1418.06,356.63 L1419.08,356.63 L1420.1,356.63 L1421.13,356.63 L1422.15,356.63 L1423.17,356.63 L1424.19,356.63 L1425.21,356.63 L1426.23,356.63 L1427.25,356.63 L1428.28,356.63 L1429.3,356.63 L1430.32,356.63 L1431.34,356.63 L1432.36,356.63 L1433.38,356.63 L1434.4,356.63 L1435.43,356.63 L1436.45,356.63 L1437.47,356.63 L1438.49,356.63 L1439.51,356.63 L1440.53,356.63 L1441.55,356.63 L1442.58,356.63 L1443.6,356.63 L1444.62,356.63 L1445.64,356.63 L1446.66,356.63 L1447.68,356.63 L1448.7,356.63 L1449.73,356.63 L1450.75,356.63 L1451.77,356.63 L1452.79,356.63 L1453.81,356.63 L1454.83,356.63 L1455.85,356.63 L1456.88,356.63 L1457.9,356.63 L1458.92,356.63 L1459.94,356.63 L1460.96,356.63 L1461.98,356.63 L1463,356.63 L1464.03,356.63 L1465.05,356.63 L1466.07,356.63 L1467.09,356.63 L1468.11,356.63 L1469.13,356.63 L1470.15,356.63 L1471.18,356.63 L1472.2,356.63 L1473.22,356.63 L1474.24,356.63 L1475.26,356.63 L1476.28,356.63 L1477.3,356.63 L1478.33,356.63 L1479.35,356.63 L1480.37,356.63 L1481.39,356.63 L1482.41,356.63 L1483.43,356.63 L1484.45,356.63 L1485.48,356.63 L1486.5,356.63 L1487.52,356.63 L1488.54,356.63 L1489.56,356.63 L1490.58,356.63 L1491.6,356.63 L1492.63,356.63 L1493.65,356.63 L1494.67,356.63 L1495.69,356.63 L1496.71,356.63 L1497.73,356.63 L1498.75,356.63 L1499.78,356.63 L1500.8,356.63 L1501.82,356.63 L1502.84,356.63 L1503.86,356.63 L1504.88,356.63 L1505.9,356.63 L1506.93,356.63 L1507.95,356.63 L1508.97,356.63 L1509.99,356.63 L1511.01,356.63 L1512.03,356.63 L1513.05,356.63 L1514.08,356.63 L1515.1,356.63 L1516.12,356.63 L1517.14,356.63 L1518.16,356.63 L1519.18,356.63 L1520.2,356.63 L1521.23,356.63 L1522.25,356.63 L1523.27,356.63 L1524.29,356.63 L1525.31,356.63 L1526.33,356.63 L1527.35,356.63 L1528.38,356.63 L1529.4,356.63 L1530.42,356.63 L1531.44,356.63 L1532.46,356.63 L1533.48,356.63 L1534.5,356.63 L1535.53,356.63 L1536.55,356.63 L1537.57,356.63 L1538.59,356.63 L1539.61,356.63 L1540.63,356.63 L1541.65,356.63 L1542.68,356.63 L1543.7,356.63 L1544.72,356.63 L1545.74,356.63 L1546.76,356.63 L1547.78,356.63 L1548.8,356.63 L1549.83,356.63 L1550.85,356.63 L1551.87,356.63 L1552.89,356.63 L1553.91,356.63 L1554.93,356.63 L1555.95,356.63 L1556.98,356.63 L1558,356.63 L1559.02,356.63 L1560.04,356.63 L1561.06,356.63 L1562.08,356.63 L1563.11,356.63" fill="none" stroke="#6cc644" stroke-width="3.6" stroke-linecap="round" stroke-linejoin="round"/>
<polygon points="1261.94,349.37 1266.93,354.62 1261.94,359.87 1256.96,354.62" fill="#ee7d31"/>
<polygon points="1299.59,341.85 1304.58,347.1 1299.59,352.35 1294.6,347.1" fill="#ee7d31"/>
<polygon points="1374.88,330.57 1379.87,335.82 1374.88,341.07 1369.89,335.82" fill="#ee7d31"/>
<polygon points="1450.17,322.05 1455.16,327.3 1450.17,332.55 1445.18,327.3" fill="#ee7d31"/>
<polygon points="1563.11,312.02 1568.09,317.27 1563.11,322.52 1558.12,317.27" fill="#ee7d31"/>
<polygon points="1224.3,386.45 1229.3,376.45 1219.3,376.45" fill="#6cc644"/>
<polygon points="1261.94,364.64 1266.94,354.64 1256.94,354.64" fill="#6cc644"/>
<polygon points="1299.59,358.87 1304.59,348.87 1294.59,348.87" fill="#6cc644"/>
<polygon points="1374.88,362.38 1379.88,352.38 1369.88,352.38" fill="#6cc644"/>
<polygon points="1450.17,361.88 1455.17,351.88 1445.17,351.88" fill="#6cc644"/>
<polygon points="1563.11,361.88 1568.11,351.88 1558.11,351.88" fill="#6cc644"/>
<polygon points="1224.3,376.95 1229.55,387.45 1219.05,387.45" fill="#3f5caa"/>
<polygon points="1261.94,363.16 1267.19,373.66 1256.69,373.66" fill="#3f5caa"/>
<polygon points="1299.59,357.9 1304.84,368.4 1294.34,368.4" fill="#3f5caa"/>
<polygon points="1374.88,352.88 1380.13,363.38 1369.63,363.38" fill="#3f5caa"/>
<polygon points="1450.17,351.63 1455.42,362.13 1444.92,362.13" fill="#3f5caa"/>
<polygon points="1563.11,356.14 1568.36,366.64 1557.86,366.64" fill="#3f5caa"/>
<path d="M1224.3,380.7 L1227.12,380.56 L1229.95,380.42 L1232.77,380.28 L1235.59,380.13 L1238.42,379.99 L1241.24,379.84 L1244.06,379.7 L1246.89,379.56 L1249.71,379.43 L1252.53,379.3 L1255.36,379.18 L1258.18,379.07 L1261,378.97 L1263.83,378.88 L1266.65,378.8 L1269.47,378.73 L1272.3,378.67 L1275.12,378.61 L1277.94,378.56 L1280.77,378.52 L1283.59,378.48 L1286.41,378.45 L1289.24,378.41 L1292.06,378.38 L1294.88,378.36 L1297.71,378.33 L1300.53,378.31 L1303.35,378.28 L1306.18,378.26 L1309,378.24 L1311.82,378.22 L1314.65,378.2 L1317.47,378.18 L1320.29,378.17 L1323.12,378.15 L1325.94,378.14 L1328.76,378.12 L1331.59,378.11 L1334.41,378.09 L1337.23,378.08 L1340.06,378.07 L1342.88,378.06 L1345.71,378.05 L1348.53,378.04 L1351.35,378.03 L1354.18,378.02 L1357,378.01 L1359.82,378 L1362.65,377.99 L1365.47,377.98 L1368.29,377.97 L1371.12,377.95 L1373.94,377.94 L1376.76,377.93 L1379.59,377.92 L1382.41,377.91 L1385.23,377.89 L1388.06,377.88 L1390.88,377.87 L1393.7,377.86 L1396.53,377.85 L1399.35,377.84 L1402.17,377.82 L1405,377.81 L1407.82,377.8 L1410.64,377.79 L1413.47,377.78 L1416.29,377.77 L1419.11,377.75 L1421.94,377.74 L1424.76,377.73 L1427.58,377.72 L1430.41,377.71 L1433.23,377.7 L1436.05,377.69 L1438.88,377.67 L1441.7,377.66 L1444.52,377.65 L1447.35,377.64 L1450.17,377.63 L1452.99,377.62 L1455.82,377.61 L1458.64,377.6 L1461.46,377.58 L1464.29,377.57 L1467.11,377.56 L1469.93,377.55 L1472.76,377.54 L1475.58,377.53 L1478.4,377.52 L1481.23,377.51 L1484.05,377.5 L1486.87,377.49 L1489.7,377.47 L1492.52,377.46 L1495.34,377.45 L1498.17,377.44 L1500.99,377.43 L1503.81,377.42 L1506.64,377.41 L1509.46,377.4 L1512.28,377.39 L1515.11,377.38 L1517.93,377.36 L1520.75,377.35 L1523.58,377.34 L1526.4,377.33 L1529.22,377.32 L1532.05,377.31 L1534.87,377.3 L1537.69,377.29 L1540.52,377.28 L1543.34,377.26 L1546.16,377.25 L1548.99,377.24 L1551.81,377.23 L1554.63,377.22 L1557.46,377.21 L1560.28,377.2 L1563.11,377.19" fill="none" stroke="#ee3124" stroke-width="3.8" stroke-linecap="round" stroke-linejoin="round"/>
<circle cx="1261.94" cy="378.94" r="4" fill="#ee3124"/>
<circle cx="1299.59" cy="378.44" r="4" fill="#ee3124"/>
<circle cx="1374.88" cy="377.44" r="4" fill="#ee3124"/>
<circle cx="1450.17" cy="376.94" r="4" fill="#ee3124"/>
<circle cx="1563.11" cy="376.68" r="4" fill="#ee3124"/>
<line x1="1224.3" y1="129.9" x2="1224.3" y2="383.8" stroke="#000000" stroke-width="3.2" stroke-linecap="butt"/>
<line x1="1222.7" y1="382.2" x2="1602.35" y2="382.2" stroke="#000000" stroke-width="3.2" stroke-linecap="butt"/>
<line x1="1213.5" y1="382.2" x2="1224.3" y2="382.2" stroke="#000000" stroke-width="3.2" stroke-linecap="butt"/>
<line x1="1213.5" y1="332.06" x2="1224.3" y2="332.06" stroke="#000000" stroke-width="3.2" stroke-linecap="butt"/>
<line x1="1213.5" y1="281.92" x2="1224.3" y2="281.92" stroke="#000000" stroke-width="3.2" stroke-linecap="butt"/>
<line x1="1213.5" y1="231.78" x2="1224.3" y2="231.78" stroke="#000000" stroke-width="3.2" stroke-linecap="butt"/>
<line x1="1213.5" y1="181.64" x2="1224.3" y2="181.64" stroke="#000000" stroke-width="3.2" stroke-linecap="butt"/>
<line x1="1213.5" y1="131.5" x2="1224.3" y2="131.5" stroke="#000000" stroke-width="3.2" stroke-linecap="butt"/>
<line x1="1224.3" y1="382.2" x2="1224.3" y2="393" stroke="#000000" stroke-width="3.2" stroke-linecap="butt"/>
<line x1="1299.59" y1="382.2" x2="1299.59" y2="393" stroke="#000000" stroke-width="3.2" stroke-linecap="butt"/>
<line x1="1374.88" y1="382.2" x2="1374.88" y2="393" stroke="#000000" stroke-width="3.2" stroke-linecap="butt"/>
<line x1="1450.17" y1="382.2" x2="1450.17" y2="393" stroke="#000000" stroke-width="3.2" stroke-linecap="butt"/>
<line x1="1525.46" y1="382.2" x2="1525.46" y2="393" stroke="#000000" stroke-width="3.2" stroke-linecap="butt"/>
<line x1="1600.75" y1="382.2" x2="1600.75" y2="393" stroke="#000000" stroke-width="3.2" stroke-linecap="butt"/>
<path d="M1224.3,381.57 L1393.7,381.57 L1563.11,381.57" fill="none" stroke="#000000" stroke-width="3.6" stroke-linecap="round" stroke-linejoin="round"/>
<circle cx="1224.3" cy="382.2" r="5" fill="#000000"/>
<circle cx="1261.94" cy="382.2" r="5" fill="#000000"/>
<circle cx="1299.59" cy="381.45" r="5" fill="#000000"/>
<circle cx="1374.88" cy="381.45" r="5" fill="#000000"/>
<circle cx="1450.17" cy="381.45" r="5" fill="#000000"/>
<circle cx="1563.11" cy="380.7" r="5" fill="#000000"/>
<text x="1184.75" y="139.5" font-size="32.1" text-anchor="middle">100</text>
<text x="1191.62" y="191.9" font-size="32.1" text-anchor="middle">80</text>
<text x="1188.12" y="243.6" font-size="32.1" text-anchor="middle">60</text>
<text x="1187.12" y="294.45" font-size="32.1" text-anchor="middle">40</text>
<text x="1186.88" y="343.2" font-size="32.1" text-anchor="middle">20</text>
<text x="1187.5" y="393.2" font-size="32.1" text-anchor="middle">0</text>
<text x="1223.12" y="433.95" font-size="32.1" text-anchor="middle">0</text>
<text x="1301.88" y="433.95" font-size="32.1" text-anchor="middle">20</text>
<text x="1376.62" y="432.7" font-size="32.1" text-anchor="middle">40</text>
<text x="1459.12" y="431.2" font-size="32.1" text-anchor="middle">60</text>
<text x="1533.75" y="427.7" font-size="32.1" text-anchor="middle">80</text>
<text x="1603.75" y="429.45" font-size="32.1" text-anchor="middle">100</text>
<text x="1430" y="462" font-size="32.1" text-anchor="middle">Time (s)</text>
<text x="1149" y="382" font-size="32.1" transform="rotate(-90 1149 382)">Drug release (%)</text>
<text x="1101" y="110.7" font-size="39" font-weight="bold">c</text>
<line x1="1255.25" y1="98.25" x2="1282.75" y2="98.25" stroke="#000000" stroke-width="3.7" stroke-linecap="round"/>
<circle cx="1269" cy="98.25" r="5.25" fill="#000000"/>
<text x="1298.5" y="104.45" font-size="32.1">0 MPa</text>
<line x1="1255.25" y1="133.25" x2="1282.75" y2="133.25" stroke="#ee3124" stroke-width="3.7" stroke-linecap="round"/>
<circle cx="1269" cy="133.25" r="4" fill="#ee3124"/>
<text x="1292" y="141.95" font-size="32.1">1.55 MPa</text>
<line x1="1255.25" y1="168" x2="1282.75" y2="168" stroke="#3f5caa" stroke-width="3.7" stroke-linecap="round"/>
<polygon points="1269,162.75 1274.25,173.25 1263.75,173.25" fill="#3f5caa"/>
<text x="1291.5" y="181.45" font-size="32.1">3.94 MPa</text>
<line x1="1255.25" y1="203.25" x2="1282.75" y2="203.25" stroke="#6cc644" stroke-width="3.7" stroke-linecap="round"/>
<polygon points="1269,208.5 1274.25,198 1263.75,198" fill="#6cc644"/>
<text x="1291.5" y="213.95" font-size="32.1">6.49 MPa</text>
<line x1="1255.25" y1="238.25" x2="1282.75" y2="238.25" stroke="#ee7d31" stroke-width="3.7" stroke-linecap="round"/>
<polygon points="1269,233 1272.94,238.25 1269,243.5 1265.06,238.25" fill="#ee7d31"/>
<text x="1291.5" y="250.7" font-size="32.1">8.04 MPa</text>
<polygon points="1754.5,380.91 1759.25,390.41 1749.75,390.41" fill="#3f5caa"/>
<polygon points="1754.5,388.89 1759.25,379.39 1749.75,379.39" fill="#6cc644"/>
<path d="M1754.5,384.14 L1757.36,384.11 L1760.21,384.08 L1763.07,384.04 L1765.93,384.01 L1768.78,383.98 L1771.64,383.94 L1774.5,383.91 L1777.35,383.88 L1780.21,383.85 L1783.07,383.81 L1785.92,383.78 L1788.78,383.75 L1791.64,383.72 L1794.49,383.68 L1797.35,383.65 L1800.21,383.62 L1803.06,383.59 L1805.92,383.55 L1808.78,383.52 L1811.63,383.49 L1814.49,383.45 L1817.35,383.42 L1820.21,383.38 L1823.06,383.35 L1825.92,383.31 L1828.78,383.28 L1831.63,383.24 L1834.49,383.21 L1837.35,383.17 L1840.2,383.14 L1843.06,383.1 L1845.92,383.06 L1848.77,383.02 L1851.63,382.99 L1854.49,382.95 L1857.34,382.91 L1860.2,382.87 L1863.06,382.84 L1865.91,382.8 L1868.77,382.76 L1871.63,382.72 L1874.48,382.68 L1877.34,382.64 L1880.2,382.6 L1883.05,382.56 L1885.91,382.53 L1888.77,382.49 L1891.62,382.45 L1894.48,382.41 L1897.34,382.37 L1900.19,382.33 L1903.05,382.3 L1905.91,382.26 L1908.76,382.22 L1911.62,382.18 L1914.48,382.14 L1917.33,382.1 L1920.19,382.06 L1923.05,382.03 L1925.9,381.99 L1928.76,381.95 L1931.62,381.91 L1934.48,381.87 L1937.33,381.83 L1940.19,381.79 L1943.05,381.75 L1945.9,381.71 L1948.76,381.67 L1951.62,381.64 L1954.47,381.6 L1957.33,381.56 L1960.19,381.52 L1963.04,381.48 L1965.9,381.45 L1968.76,381.41 L1971.61,381.37 L1974.47,381.34 L1977.33,381.3 L1980.18,381.27 L1983.04,381.23 L1985.9,381.2 L1988.75,381.17 L1991.61,381.13 L1994.47,381.1 L1997.32,381.07 L2000.18,381.03 L2003.04,381 L2005.89,380.97 L2008.75,380.93 L2011.61,380.9 L2014.46,380.87 L2017.32,380.84 L2020.18,380.81 L2023.03,380.78 L2025.89,380.74 L2028.75,380.71 L2031.6,380.68 L2034.46,380.65 L2037.32,380.62 L2040.18,380.59 L2043.03,380.56 L2045.89,380.53 L2048.75,380.5 L2051.6,380.46 L2054.46,380.43 L2057.32,380.4 L2060.17,380.37 L2063.03,380.34 L2065.89,380.31 L2068.74,380.28 L2071.6,380.25 L2074.46,380.22 L2077.31,380.19 L2080.17,380.16 L2083.03,380.13 L2085.88,380.09 L2088.74,380.06 L2091.6,380.03 L2094.45,380 L2097.31,379.97" fill="none" stroke="#ee7d31" stroke-width="3.8" stroke-linecap="round" stroke-linejoin="round"/>
<path d="M1754.5,383.64 L1811.63,383.64 L1868.77,383.64" fill="none" stroke="#ee3124" stroke-width="3" stroke-linecap="round" stroke-linejoin="round"/>
<line x1="1754.5" y1="130.4" x2="1754.5" y2="386.5" stroke="#000000" stroke-width="3.2" stroke-linecap="butt"/>
<line x1="1752.9" y1="384.9" x2="2137" y2="384.9" stroke="#000000" stroke-width="3.2" stroke-linecap="butt"/>
<line x1="1743.1" y1="384.9" x2="1754.5" y2="384.9" stroke="#000000" stroke-width="3.2" stroke-linecap="butt"/>
<line x1="1743.1" y1="334.32" x2="1754.5" y2="334.32" stroke="#000000" stroke-width="3.2" stroke-linecap="butt"/>
<line x1="1743.1" y1="283.74" x2="1754.5" y2="283.74" stroke="#000000" stroke-width="3.2" stroke-linecap="butt"/>
<line x1="1743.1" y1="233.16" x2="1754.5" y2="233.16" stroke="#000000" stroke-width="3.2" stroke-linecap="butt"/>
<line x1="1743.1" y1="182.58" x2="1754.5" y2="182.58" stroke="#000000" stroke-width="3.2" stroke-linecap="butt"/>
<line x1="1743.1" y1="132" x2="1754.5" y2="132" stroke="#000000" stroke-width="3.2" stroke-linecap="butt"/>
<line x1="1754.5" y1="384.9" x2="1754.5" y2="396.3" stroke="#000000" stroke-width="3.2" stroke-linecap="butt"/>
<line x1="1830.68" y1="384.9" x2="1830.68" y2="396.3" stroke="#000000" stroke-width="3.2" stroke-linecap="butt"/>
<line x1="1906.86" y1="384.9" x2="1906.86" y2="396.3" stroke="#000000" stroke-width="3.2" stroke-linecap="butt"/>
<line x1="1983.04" y1="384.9" x2="1983.04" y2="396.3" stroke="#000000" stroke-width="3.2" stroke-linecap="butt"/>
<line x1="2059.22" y1="384.9" x2="2059.22" y2="396.3" stroke="#000000" stroke-width="3.2" stroke-linecap="butt"/>
<line x1="2135.4" y1="384.9" x2="2135.4" y2="396.3" stroke="#000000" stroke-width="3.2" stroke-linecap="butt"/>
<path d="M1754.5,384.27 L1823.06,384.27 L1891.62,384.27" fill="none" stroke="#000000" stroke-width="3.8" stroke-linecap="round" stroke-linejoin="round"/>
<path d="M1891.62,382.45 L1893.34,382.43 L1895.05,382.4 L1896.77,382.38 L1898.48,382.36 L1900.19,382.33 L1901.91,382.31 L1903.62,382.29 L1905.34,382.26 L1907.05,382.24 L1908.76,382.22 L1910.48,382.2 L1912.19,382.17 L1913.91,382.15 L1915.62,382.13 L1917.33,382.1 L1919.05,382.08 L1920.76,382.06 L1922.48,382.03 L1924.19,382.01 L1925.9,381.99 L1927.62,381.96 L1929.33,381.94 L1931.05,381.92 L1932.76,381.89 L1934.48,381.87 L1936.19,381.85 L1937.9,381.82 L1939.62,381.8 L1941.33,381.78 L1943.05,381.75 L1944.76,381.73 L1946.47,381.71 L1948.19,381.68 L1949.9,381.66 L1951.62,381.64 L1953.33,381.61 L1955.04,381.59 L1956.76,381.57 L1958.47,381.54 L1960.19,381.52 L1961.9,381.5 L1963.61,381.48 L1965.33,381.45 L1967.04,381.43 L1968.76,381.41 L1970.47,381.39 L1972.18,381.37 L1973.9,381.34 L1975.61,381.32 L1977.33,381.3 L1979.04,381.28 L1980.75,381.26 L1982.47,381.24 L1984.18,381.22 L1985.9,381.2 L1987.61,381.18 L1989.32,381.16 L1991.04,381.14 L1992.75,381.12 L1994.47,381.1 L1996.18,381.08 L1997.9,381.06 L1999.61,381.04 L2001.32,381.02 L2003.04,381 L2004.75,380.98 L2006.47,380.96 L2008.18,380.94 L2009.89,380.92 L2011.61,380.9 L2013.32,380.88 L2015.04,380.86 L2016.75,380.85 L2018.46,380.83 L2020.18,380.81 L2021.89,380.79 L2023.61,380.77 L2025.32,380.75 L2027.03,380.73 L2028.75,380.71 L2030.46,380.69 L2032.18,380.68 L2033.89,380.66 L2035.6,380.64 L2037.32,380.62 L2039.03,380.6 L2040.75,380.58 L2042.46,380.56 L2044.17,380.54 L2045.89,380.53 L2047.6,380.51 L2049.32,380.49 L2051.03,380.47 L2052.74,380.45 L2054.46,380.43 L2056.17,380.42 L2057.89,380.4 L2059.6,380.38 L2061.31,380.36 L2063.03,380.34 L2064.74,380.32 L2066.46,380.3 L2068.17,380.29 L2069.89,380.27 L2071.6,380.25 L2073.31,380.23 L2075.03,380.21 L2076.74,380.19 L2078.46,380.17 L2080.17,380.16 L2081.88,380.14 L2083.6,380.12 L2085.31,380.1 L2087.03,380.08 L2088.74,380.06 L2090.45,380.04 L2092.17,380.03 L2093.88,380.01 L2095.6,379.99 L2097.31,379.97" fill="none" stroke="#ee7d31" stroke-width="3.8" stroke-linecap="round" stroke-linejoin="round"/>
<path d="M1952.57,384.9 L2024.94,384.9 L2097.31,384.9" fill="none" stroke="#6cc644" stroke-width="3.8" stroke-linecap="round" stroke-linejoin="round"/>
<polygon points="1906.86,376.87 1911.59,382.12 1906.86,387.37 1902.14,382.12" fill="#ee7d31"/>
<polygon points="1983.04,375.86 1987.76,381.11 1983.04,386.36 1978.32,381.11" fill="#ee7d31"/>
<polygon points="2097.31,374.59 2102.03,379.84 2097.31,385.09 2092.59,379.84" fill="#ee7d31"/>
<polygon points="1906.86,388.64 1911.86,378.64 1901.86,378.64" fill="#6cc644"/>
<polygon points="1983.04,388.13 1988.04,378.13 1978.04,378.13" fill="#6cc644"/>
<circle cx="1754.5" cy="384.9" r="5" fill="#000000"/>
<circle cx="1792.59" cy="384.65" r="5" fill="#000000"/>
<circle cx="1830.68" cy="384.39" r="5" fill="#000000"/>
<text x="1711.62" y="139.8" font-size="32.1" text-anchor="middle">100</text>
<text x="1718.5" y="192.3" font-size="32.1" text-anchor="middle">80</text>
<text x="1715.12" y="244.8" font-size="32.1" text-anchor="middle">60</text>
<text x="1714.12" y="295.55" font-size="32.1" text-anchor="middle">40</text>
<text x="1713.88" y="344.3" font-size="32.1" text-anchor="middle">20</text>
<text x="1713.25" y="393.55" font-size="32.1" text-anchor="middle">0</text>
<text x="1753.62" y="437.3" font-size="32.1" text-anchor="middle">0</text>
<text x="1832" y="437.3" font-size="32.1" text-anchor="middle">20</text>
<text x="1907.25" y="435.3" font-size="32.1" text-anchor="middle">40</text>
<text x="1989.5" y="432.8" font-size="32.1" text-anchor="middle">60</text>
<text x="2064.5" y="431.05" font-size="32.1" text-anchor="middle">80</text>
<text x="2134.5" y="432.3" font-size="32.1" text-anchor="middle">100</text>
<text x="1961" y="465.7" font-size="32.1" text-anchor="middle">Time (s)</text>
<text x="1675.75" y="383.25" font-size="32.1" transform="rotate(-90 1675.75 383.25)">Drug release (%)</text>
<text x="1629.5" y="108.55" font-size="39" font-weight="bold">d</text>
<line x1="1785.5" y1="98.25" x2="1813.5" y2="98.25" stroke="#000000" stroke-width="3.7" stroke-linecap="round"/>
<circle cx="1799.5" cy="98.25" r="5.25" fill="#000000"/>
<text x="1834" y="108.55" font-size="32.1">0 MPa</text>
<line x1="1785.5" y1="133.75" x2="1813.5" y2="133.75" stroke="#ee3124" stroke-width="3.7" stroke-linecap="round"/>
<circle cx="1799.5" cy="133.75" r="4" fill="#ee3124"/>
<text x="1828" y="146.8" font-size="32.1">1.55 MPa</text>
<line x1="1785.5" y1="168.25" x2="1813.5" y2="168.25" stroke="#3f5caa" stroke-width="3.7" stroke-linecap="round"/>
<polygon points="1799.5,163 1804.75,173.5 1794.25,173.5" fill="#3f5caa"/>
<text x="1827.25" y="186.05" font-size="32.1">3.94 MPa</text>
<line x1="1785.5" y1="204.25" x2="1813.5" y2="204.25" stroke="#6cc644" stroke-width="3.7" stroke-linecap="round"/>
<polygon points="1799.5,209.5 1804.75,199 1794.25,199" fill="#6cc644"/>
<text x="1827.25" y="219.05" font-size="32.1">6.49 MPa</text>
<line x1="1785.5" y1="239.5" x2="1813.5" y2="239.5" stroke="#ee7d31" stroke-width="3.7" stroke-linecap="round"/>
<polygon points="1799.5,234.25 1803.44,239.5 1799.5,244.75 1795.56,239.5" fill="#ee7d31"/>
<text x="1827.25" y="255.55" font-size="32.1">8.04 MPa</text>
<path d="M141.68,816.18 L144.38,815.82 L147.08,815.47 L149.78,815.13 L152.48,814.81 L155.18,814.5 L157.88,814.21 L160.58,813.93 L163.28,813.66 L165.98,813.4 L168.68,813.15 L171.38,812.91 L174.08,812.69 L176.78,812.47 L179.48,812.26 L182.18,812.06 L184.88,811.87 L187.59,811.69 L190.29,811.51 L192.99,811.35 L195.69,811.19 L198.39,811.03 L201.09,810.89 L203.79,810.75 L206.49,810.61 L209.19,810.48 L211.89,810.36 L214.59,810.24 L217.29,810.13 L219.99,810.02 L222.69,809.92 L225.39,809.82 L228.09,809.72 L230.8,809.63 L233.5,809.54 L236.2,809.46 L238.9,809.38 L241.6,809.3 L244.3,809.23 L247,809.16 L249.7,809.09 L252.4,809.03 L255.1,808.97 L257.8,808.91 L260.5,808.85 L263.2,808.8 L265.9,808.75 L268.6,808.7 L271.3,808.65 L274.01,808.6 L276.71,808.56 L279.41,808.52 L282.11,808.48 L284.81,808.44 L287.51,808.4 L290.21,808.37 L292.91,808.34 L295.61,808.3 L298.31,808.27 L301.01,808.24 L303.71,808.22 L306.41,808.19 L309.11,808.16 L311.81,808.14 L314.51,808.12 L317.22,808.09 L319.92,808.07 L322.62,808.05 L325.32,808.03 L328.02,808.01 L330.72,807.99 L333.42,807.98 L336.12,807.96 L338.82,807.94 L341.52,807.93 L344.22,807.91 L346.92,807.9 L349.62,807.89 L352.32,807.87 L355.02,807.86 L357.73,807.85 L360.43,807.84 L363.13,807.83 L365.83,807.82 L368.53,807.81 L371.23,807.8 L373.93,807.79 L376.63,807.78 L379.33,807.77 L382.03,807.76 L384.73,807.76 L387.43,807.75 L390.13,807.74 L392.83,807.73 L395.53,807.73 L398.23,807.72 L400.93,807.72 L403.64,807.71 L406.34,807.71 L409.04,807.7 L411.74,807.69 L414.44,807.69 L417.14,807.69 L419.84,807.68 L422.54,807.68 L425.24,807.67 L427.94,807.67 L430.64,807.67 L433.34,807.66 L436.04,807.66 L438.74,807.66 L441.44,807.65 L444.14,807.65 L446.85,807.65 L449.55,807.64 L452.25,807.64 L454.95,807.64 L457.65,807.64 L460.35,807.63 L463.05,807.63 L465.75,807.63" fill="none" stroke="#ee3124" stroke-width="3" stroke-linecap="round" stroke-linejoin="round"/>
<path d="M130.5,807.27 L133.29,807.18 L136.09,807.09 L138.88,807 L141.68,806.91 L144.47,806.82 L147.26,806.73 L150.06,806.65 L152.85,806.56 L155.64,806.48 L158.44,806.39 L161.23,806.3 L164.03,806.22 L166.82,806.13 L169.61,806.04 L172.41,805.95 L175.2,805.86 L177.99,805.77 L180.79,805.68 L183.58,805.58 L186.38,805.49 L189.17,805.39 L191.96,805.29 L194.76,805.18 L197.55,805.08 L200.34,804.97 L203.14,804.85 L205.93,804.74 L208.72,804.62 L211.52,804.5 L214.31,804.38 L217.11,804.25 L219.9,804.13 L222.69,804 L225.49,803.87 L228.28,803.74 L231.07,803.61 L233.87,803.47 L236.66,803.34 L239.46,803.2 L242.25,803.06 L245.04,802.92 L247.84,802.78 L250.63,802.63 L253.43,802.48 L256.22,802.34 L259.01,802.19 L261.81,802.03 L264.6,801.88 L267.39,801.73 L270.19,801.57 L272.98,801.41 L275.77,801.25 L278.57,801.09 L281.36,800.92 L284.16,800.76 L286.95,800.59 L289.74,800.43 L292.54,800.26 L295.33,800.09 L298.12,799.92 L300.92,799.75 L303.71,799.58 L306.51,799.4 L309.3,799.23 L312.09,799.05 L314.89,798.87 L317.68,798.69 L320.48,798.5 L323.27,798.31 L326.06,798.12 L328.86,797.93 L331.65,797.73 L334.44,797.53 L337.24,797.33 L340.03,797.13 L342.82,796.92 L345.62,796.7 L348.41,796.49 L351.21,796.27 L354,796.04 L356.79,795.81 L359.59,795.57 L362.38,795.33 L365.18,795.08 L367.97,794.83 L370.76,794.57 L373.56,794.31 L376.35,794.04 L379.14,793.76 L381.94,793.48 L384.73,793.2 L387.52,792.91 L390.32,792.61 L393.11,792.31 L395.91,792.01 L398.7,791.7 L401.49,791.39 L404.29,791.07 L407.08,790.75 L409.88,790.42 L412.67,790.09 L415.46,789.75 L418.26,789.4 L421.05,789.05 L423.84,788.68 L426.64,788.32 L429.43,787.94 L432.23,787.56 L435.02,787.18 L437.81,786.8 L440.61,786.41 L443.4,786.02 L446.19,785.63 L448.99,785.24 L451.78,784.85 L454.57,784.46 L457.37,784.08 L460.16,783.69 L462.96,783.31 L465.75,782.94" fill="none" stroke="#000000" stroke-width="3" stroke-linecap="round" stroke-linejoin="round"/>
<line x1="130.5" y1="569.9" x2="130.5" y2="822.5" stroke="#000000" stroke-width="3" stroke-linecap="butt"/>
<line x1="129" y1="821" x2="504.5" y2="821" stroke="#000000" stroke-width="3" stroke-linecap="butt"/>
<line x1="119.5" y1="821" x2="130.5" y2="821" stroke="#000000" stroke-width="3" stroke-linecap="butt"/>
<line x1="119.5" y1="758.6" x2="130.5" y2="758.6" stroke="#000000" stroke-width="3" stroke-linecap="butt"/>
<line x1="119.5" y1="696.2" x2="130.5" y2="696.2" stroke="#000000" stroke-width="3" stroke-linecap="butt"/>
<line x1="119.5" y1="633.8" x2="130.5" y2="633.8" stroke="#000000" stroke-width="3" stroke-linecap="butt"/>
<line x1="119.5" y1="571.4" x2="130.5" y2="571.4" stroke="#000000" stroke-width="3" stroke-linecap="butt"/>
<line x1="130.5" y1="821" x2="130.5" y2="832" stroke="#000000" stroke-width="3" stroke-linecap="butt"/>
<line x1="205" y1="821" x2="205" y2="832" stroke="#000000" stroke-width="3" stroke-linecap="butt"/>
<line x1="279.5" y1="821" x2="279.5" y2="832" stroke="#000000" stroke-width="3" stroke-linecap="butt"/>
<line x1="354" y1="821" x2="354" y2="832" stroke="#000000" stroke-width="3" stroke-linecap="butt"/>
<line x1="428.5" y1="821" x2="428.5" y2="832" stroke="#000000" stroke-width="3" stroke-linecap="butt"/>
<line x1="503" y1="821" x2="503" y2="832" stroke="#000000" stroke-width="3" stroke-linecap="butt"/>
<rect x="132.95" y="810.7" width="10" height="10" fill="#000000"/>
<line x1="149.12" y1="805.4" x2="149.12" y2="819.75" stroke="#000000" stroke-width="2.8" stroke-linecap="butt"/>
<line x1="142.88" y1="805.4" x2="155.38" y2="805.4" stroke="#000000" stroke-width="2.8" stroke-linecap="butt"/>
<line x1="142.88" y1="819.75" x2="155.38" y2="819.75" stroke="#000000" stroke-width="2.8" stroke-linecap="butt"/>
<rect x="144.12" y="809.45" width="10" height="10" fill="#000000"/>
<line x1="167.75" y1="756.1" x2="167.75" y2="774.2" stroke="#000000" stroke-width="2.8" stroke-linecap="butt"/>
<line x1="161.5" y1="756.1" x2="174" y2="756.1" stroke="#000000" stroke-width="2.8" stroke-linecap="butt"/>
<line x1="161.5" y1="774.2" x2="174" y2="774.2" stroke="#000000" stroke-width="2.8" stroke-linecap="butt"/>
<rect x="162.75" y="760.46" width="10" height="10" fill="#000000"/>
<rect x="200" y="799.78" width="10" height="10" fill="#000000"/>
<line x1="279.5" y1="814.76" x2="279.5" y2="819.75" stroke="#000000" stroke-width="2.8" stroke-linecap="butt"/>
<line x1="273.25" y1="814.76" x2="285.75" y2="814.76" stroke="#000000" stroke-width="2.8" stroke-linecap="butt"/>
<rect x="274.5" y="814.75" width="10" height="10" fill="#000000"/>
<line x1="354" y1="777.32" x2="354" y2="800.41" stroke="#000000" stroke-width="2.8" stroke-linecap="butt"/>
<line x1="347.75" y1="777.32" x2="360.25" y2="777.32" stroke="#000000" stroke-width="2.8" stroke-linecap="butt"/>
<line x1="347.75" y1="800.41" x2="360.25" y2="800.41" stroke="#000000" stroke-width="2.8" stroke-linecap="butt"/>
<rect x="349" y="784.18" width="10" height="10" fill="#000000"/>
<rect x="460.75" y="777.94" width="10" height="10" fill="#000000"/>
<line x1="149.12" y1="792.92" x2="149.12" y2="807.27" stroke="#ee3124" stroke-width="2.8" stroke-linecap="butt"/>
<line x1="142.88" y1="792.92" x2="155.38" y2="792.92" stroke="#ee3124" stroke-width="2.8" stroke-linecap="butt"/>
<line x1="142.88" y1="807.27" x2="155.38" y2="807.27" stroke="#ee3124" stroke-width="2.8" stroke-linecap="butt"/>
<circle cx="149.12" cy="801.03" r="5" fill="#ee3124"/>
<circle cx="167.75" cy="801.03" r="5" fill="#ee3124"/>
<line x1="279.5" y1="780.44" x2="279.5" y2="802.28" stroke="#ee3124" stroke-width="2.8" stroke-linecap="butt"/>
<line x1="273.25" y1="780.44" x2="285.75" y2="780.44" stroke="#ee3124" stroke-width="2.8" stroke-linecap="butt"/>
<line x1="273.25" y1="802.28" x2="285.75" y2="802.28" stroke="#ee3124" stroke-width="2.8" stroke-linecap="butt"/>
<circle cx="279.5" cy="791.67" r="5" fill="#ee3124"/>
<circle cx="354" cy="818.5" r="5" fill="#ee3124"/>
<circle cx="465.75" cy="810.39" r="5" fill="#ee3124"/>
<circle cx="130.5" cy="821" r="5" fill="#ee3124"/>
<text x="99.75" y="579.45" font-size="32.3" text-anchor="middle">40</text>
<text x="100.12" y="641.95" font-size="32.3" text-anchor="middle">30</text>
<text x="100.12" y="704.45" font-size="32.3" text-anchor="middle">20</text>
<text x="101" y="763.95" font-size="32.3" text-anchor="middle">10</text>
<text x="100.62" y="832.95" font-size="32.3" text-anchor="middle">0</text>
<text x="129.38" y="865.3" font-size="32.3" text-anchor="middle">0</text>
<text x="210.88" y="865.3" font-size="32.3" text-anchor="middle">20</text>
<text x="286" y="865.3" font-size="32.3" text-anchor="middle">40</text>
<text x="355.25" y="865.3" font-size="32.3" text-anchor="middle">60</text>
<text x="428.38" y="865.3" font-size="32.3" text-anchor="middle">80</text>
<text x="503.5" y="865.3" font-size="32.3" text-anchor="middle">100</text>
<text x="317" y="905.95" font-size="32.3" text-anchor="middle">Time (s)</text>
<text x="58.75" y="772.5" font-size="32.3" transform="rotate(-90 58.75 772.5)">Release (%)</text>
<text x="3" y="556.2" font-size="39" font-weight="bold">e</text>
<line x1="149" y1="571.25" x2="176.25" y2="571.25" stroke="#ee3124" stroke-width="2" stroke-linecap="round"/>
<circle cx="162.62" cy="571.25" r="5" fill="#ee3124"/>
<text x="195.5" y="579.45" font-size="32.3">Without FUS</text>
<line x1="148" y1="605.5" x2="174.5" y2="605.5" stroke="#000000" stroke-width="2" stroke-linecap="round"/>
<rect x="156.25" y="600.5" width="10" height="10" fill="#000000"/>
<text x="237" y="611.95" font-size="32.3">FUS</text>
<path d="M658.9,825.05 L661.76,802.96 L664.61,784.63 L667.47,769.4 L670.32,756.76 L673.18,746.27 L676.03,737.55 L678.89,730.32 L681.74,724.31 L684.6,719.32 L687.45,715.18 L690.31,711.74 L693.16,708.89 L696.02,706.52 L698.87,704.55 L701.73,702.92 L704.58,701.56 L707.44,700.43 L710.29,699.5 L713.15,698.72 L716,698.08 L718.86,697.54 L721.72,697.1 L724.57,696.73 L727.43,696.42 L730.28,696.17 L733.14,695.96 L735.99,695.78 L738.85,695.64 L741.7,695.52 L744.56,695.42 L747.41,695.33 L750.27,695.26 L753.12,695.21 L755.98,695.16 L758.83,695.12 L761.69,695.09 L764.54,695.06 L767.4,695.04 L770.25,695.02 L773.11,695 L775.97,694.99 L778.82,694.98 L781.68,694.97 L784.53,694.96 L787.39,694.96 L790.24,694.95 L793.1,694.95 L795.95,694.94 L798.81,694.94 L801.66,694.94 L804.52,694.94 L807.37,694.93 L810.23,694.93 L813.08,694.93 L815.94,694.93 L818.79,694.93 L821.65,694.93 L824.5,694.93 L827.36,694.93 L830.21,694.93 L833.07,694.93 L835.93,694.93 L838.78,694.93 L841.64,694.93 L844.49,694.93 L847.35,694.93 L850.2,694.93 L853.06,694.93 L855.91,694.93 L858.77,694.93 L861.62,694.93 L864.48,694.93 L867.33,694.93 L870.19,694.93 L873.04,694.93 L875.9,694.93 L878.75,694.93 L881.61,694.93 L884.46,694.93 L887.32,694.93 L890.18,694.93 L893.03,694.93 L895.89,694.93 L898.74,694.93 L901.6,694.93 L904.45,694.93 L907.31,694.93 L910.16,694.93 L913.02,694.93 L915.87,694.93 L918.73,694.93 L921.58,694.93 L924.44,694.93 L927.29,694.93 L930.15,694.93 L933,694.93 L935.86,694.93 L938.71,694.93 L941.57,694.93 L944.42,694.93 L947.28,694.93 L950.14,694.93 L952.99,694.93 L955.85,694.93 L958.7,694.93 L961.56,694.93 L964.41,694.93 L967.27,694.93 L970.12,694.93 L972.98,694.93 L975.83,694.93 L978.69,694.93 L981.54,694.93 L984.4,694.93 L987.25,694.93 L990.11,694.93 L992.96,694.93 L995.82,694.93 L998.67,694.93 L1001.53,694.93" fill="none" stroke="#3f5caa" stroke-width="2.9" stroke-linecap="round" stroke-linejoin="round"/>
<line x1="666.51" y1="761.51" x2="666.51" y2="780.83" stroke="#3f5caa" stroke-width="2.8" stroke-linecap="butt"/>
<line x1="660.26" y1="761.51" x2="672.76" y2="761.51" stroke="#3f5caa" stroke-width="2.8" stroke-linecap="butt"/>
<line x1="660.26" y1="780.83" x2="672.76" y2="780.83" stroke="#3f5caa" stroke-width="2.8" stroke-linecap="butt"/>
<polygon points="666.51,765.66 671.51,775.66 661.51,775.66" fill="#3f5caa"/>
<polygon points="677.93,727.54 682.93,737.54 672.93,737.54" fill="#3f5caa"/>
<polygon points="696.97,720.42 701.97,730.42 691.97,730.42" fill="#3f5caa"/>
<line x1="735.04" y1="716.27" x2="735.04" y2="732.54" stroke="#3f5caa" stroke-width="2.8" stroke-linecap="butt"/>
<line x1="728.79" y1="716.27" x2="741.29" y2="716.27" stroke="#3f5caa" stroke-width="2.8" stroke-linecap="butt"/>
<line x1="728.79" y1="732.54" x2="741.29" y2="732.54" stroke="#3f5caa" stroke-width="2.8" stroke-linecap="butt"/>
<polygon points="735.04,719.92 740.54,730.92 729.54,730.92" fill="#3f5caa"/>
<line x1="811.18" y1="711.7" x2="811.18" y2="731.52" stroke="#3f5caa" stroke-width="2.8" stroke-linecap="butt"/>
<line x1="804.93" y1="711.7" x2="817.43" y2="711.7" stroke="#3f5caa" stroke-width="2.8" stroke-linecap="butt"/>
<line x1="804.93" y1="731.52" x2="817.43" y2="731.52" stroke="#3f5caa" stroke-width="2.8" stroke-linecap="butt"/>
<polygon points="811.18,717.89 816.68,728.89 805.68,728.89" fill="#3f5caa"/>
<line x1="887.32" y1="694.42" x2="887.32" y2="708.65" stroke="#3f5caa" stroke-width="2.8" stroke-linecap="butt"/>
<line x1="881.07" y1="694.42" x2="893.57" y2="694.42" stroke="#3f5caa" stroke-width="2.8" stroke-linecap="butt"/>
<line x1="881.07" y1="708.65" x2="893.57" y2="708.65" stroke="#3f5caa" stroke-width="2.8" stroke-linecap="butt"/>
<polygon points="887.32,697.06 893.32,709.06 881.32,709.06" fill="#3f5caa"/>
<polygon points="1001.53,628.93 1006.53,638.93 996.53,638.93" fill="#3f5caa"/>
<line x1="658.9" y1="569.4" x2="658.9" y2="826.55" stroke="#000000" stroke-width="3" stroke-linecap="butt"/>
<line x1="657.4" y1="825.05" x2="1041.1" y2="825.05" stroke="#000000" stroke-width="3" stroke-linecap="butt"/>
<line x1="647.7" y1="825.05" x2="658.9" y2="825.05" stroke="#000000" stroke-width="3" stroke-linecap="butt"/>
<line x1="647.7" y1="774.22" x2="658.9" y2="774.22" stroke="#000000" stroke-width="3" stroke-linecap="butt"/>
<line x1="647.7" y1="723.39" x2="658.9" y2="723.39" stroke="#000000" stroke-width="3" stroke-linecap="butt"/>
<line x1="647.7" y1="672.56" x2="658.9" y2="672.56" stroke="#000000" stroke-width="3" stroke-linecap="butt"/>
<line x1="647.7" y1="621.73" x2="658.9" y2="621.73" stroke="#000000" stroke-width="3" stroke-linecap="butt"/>
<line x1="647.7" y1="570.9" x2="658.9" y2="570.9" stroke="#000000" stroke-width="3" stroke-linecap="butt"/>
<line x1="658.9" y1="825.05" x2="658.9" y2="836.25" stroke="#000000" stroke-width="3" stroke-linecap="butt"/>
<line x1="735.04" y1="825.05" x2="735.04" y2="836.25" stroke="#000000" stroke-width="3" stroke-linecap="butt"/>
<line x1="811.18" y1="825.05" x2="811.18" y2="836.25" stroke="#000000" stroke-width="3" stroke-linecap="butt"/>
<line x1="887.32" y1="825.05" x2="887.32" y2="836.25" stroke="#000000" stroke-width="3" stroke-linecap="butt"/>
<line x1="963.46" y1="825.05" x2="963.46" y2="836.25" stroke="#000000" stroke-width="3" stroke-linecap="butt"/>
<line x1="1039.6" y1="825.05" x2="1039.6" y2="836.25" stroke="#000000" stroke-width="3" stroke-linecap="butt"/>
<path d="M658.9,822 L661.76,821.72 L664.61,821.45 L667.47,821.19 L670.32,820.94 L673.18,820.7 L676.03,820.46 L678.89,820.24 L681.74,820.02 L684.6,819.82 L687.45,819.62 L690.31,819.42 L693.16,819.24 L696.02,819.06 L698.87,818.89 L701.73,818.72 L704.58,818.56 L707.44,818.41 L710.29,818.26 L713.15,818.11 L716,817.98 L718.86,817.84 L721.72,817.72 L724.57,817.59 L727.43,817.48 L730.28,817.36 L733.14,817.25 L735.99,817.15 L738.85,817.04 L741.7,816.95 L744.56,816.85 L747.41,816.76 L750.27,816.67 L753.12,816.59 L755.98,816.51 L758.83,816.43 L761.69,816.35 L764.54,816.28 L767.4,816.21 L770.25,816.14 L773.11,816.08 L775.97,816.01 L778.82,815.95 L781.68,815.9 L784.53,815.84 L787.39,815.79 L790.24,815.73 L793.1,815.68 L795.95,815.64 L798.81,815.59 L801.66,815.54 L804.52,815.5 L807.37,815.46 L810.23,815.42 L813.08,815.38 L815.94,815.35 L818.79,815.31 L821.65,815.28 L824.5,815.24 L827.36,815.21 L830.21,815.18 L833.07,815.15 L835.93,815.12 L838.78,815.09 L841.64,815.07 L844.49,815.04 L847.35,815.02 L850.2,814.99 L853.06,814.97 L855.91,814.95 L858.77,814.93 L861.62,814.91 L864.48,814.89 L867.33,814.87 L870.19,814.85 L873.04,814.83 L875.9,814.82 L878.75,814.8 L881.61,814.78 L884.46,814.77 L887.32,814.76 L890.18,814.74 L893.03,814.73 L895.89,814.71 L898.74,814.7 L901.6,814.69 L904.45,814.68 L907.31,814.67 L910.16,814.66 L913.02,814.65 L915.87,814.64 L918.73,814.63 L921.58,814.62 L924.44,814.61 L927.29,814.6 L930.15,814.59 L933,814.58 L935.86,814.58 L938.71,814.57 L941.57,814.56 L944.42,814.56 L947.28,814.55 L950.14,814.54 L952.99,814.54 L955.85,814.53 L958.7,814.52 L961.56,814.52 L964.41,814.51 L967.27,814.51 L970.12,814.5 L972.98,814.5 L975.83,814.49 L978.69,814.49 L981.54,814.49 L984.4,814.48 L987.25,814.48 L990.11,814.47 L992.96,814.47 L995.82,814.47 L998.67,814.46 L1001.53,814.46" fill="none" stroke="#000000" stroke-width="3" stroke-linecap="round" stroke-linejoin="round"/>
<circle cx="658.9" cy="825.05" r="5" fill="#000000"/>
<line x1="677.93" y1="804.72" x2="677.93" y2="814.88" stroke="#000000" stroke-width="2.8" stroke-linecap="butt"/>
<line x1="671.68" y1="804.72" x2="684.18" y2="804.72" stroke="#000000" stroke-width="2.8" stroke-linecap="butt"/>
<line x1="671.68" y1="814.88" x2="684.18" y2="814.88" stroke="#000000" stroke-width="2.8" stroke-linecap="butt"/>
<circle cx="677.93" cy="810.51" r="5" fill="#000000"/>
<circle cx="696.97" cy="810.51" r="5" fill="#000000"/>
<line x1="811.18" y1="793.54" x2="811.18" y2="810.82" stroke="#000000" stroke-width="2.8" stroke-linecap="butt"/>
<line x1="804.93" y1="793.54" x2="817.43" y2="793.54" stroke="#000000" stroke-width="2.8" stroke-linecap="butt"/>
<line x1="804.93" y1="810.82" x2="817.43" y2="810.82" stroke="#000000" stroke-width="2.8" stroke-linecap="butt"/>
<circle cx="811.18" cy="802.68" r="5" fill="#000000"/>
<circle cx="887.32" cy="822.51" r="5" fill="#000000"/>
<circle cx="1001.53" cy="817.32" r="5" fill="#000000"/>
<text x="627.5" y="579.4" font-size="32.3" text-anchor="middle">25</text>
<text x="629.38" y="630.2" font-size="32.3" text-anchor="middle">20</text>
<text x="629.25" y="681.4" font-size="32.3" text-anchor="middle">15</text>
<text x="627.88" y="732.4" font-size="32.3" text-anchor="middle">10</text>
<text x="628.6" y="783.9" font-size="32.3" text-anchor="middle">5</text>
<text x="628.6" y="836.4" font-size="32.3" text-anchor="middle">0</text>
<text x="661.62" y="865.6" font-size="32.3" text-anchor="middle">0</text>
<text x="735.88" y="865.6" font-size="32.3" text-anchor="middle">20</text>
<text x="810.88" y="865.6" font-size="32.3" text-anchor="middle">40</text>
<text x="892.52" y="865.6" font-size="32.3" text-anchor="middle">60</text>
<text x="965.85" y="865.6" font-size="32.3" text-anchor="middle">80</text>
<text x="1042.85" y="865.6" font-size="32.3" text-anchor="middle">100</text>
<text x="858.3" y="910" font-size="32.3" text-anchor="middle">Time (s)</text>
<text x="575" y="771" font-size="32.3" transform="rotate(-90 575 771)">Release (%)</text>
<text x="540.5" y="577.4" font-size="39" font-weight="bold">f</text>
<line x1="683" y1="570" x2="709.5" y2="570" stroke="#000000" stroke-width="2" stroke-linecap="round"/>
<circle cx="696.25" cy="570" r="5" fill="#000000"/>
<text x="728" y="583.4" font-size="32.3">Without FUS</text>
<line x1="683" y1="605.5" x2="709.5" y2="605.5" stroke="#3f5caa" stroke-width="2" stroke-linecap="round"/>
<polygon points="696.25,600.5 701.25,610.5 691.25,610.5" fill="#3f5caa"/>
<text x="769.5" y="615.4" font-size="32.3">FUS</text>
<line x1="1230.5" y1="569.5" x2="1230.5" y2="826.9" stroke="#000000" stroke-width="3" stroke-linecap="butt"/>
<line x1="1229" y1="825.4" x2="1612.4" y2="825.4" stroke="#000000" stroke-width="3" stroke-linecap="butt"/>
<line x1="1219.2" y1="825.4" x2="1230.5" y2="825.4" stroke="#000000" stroke-width="3" stroke-linecap="butt"/>
<line x1="1219.2" y1="774.52" x2="1230.5" y2="774.52" stroke="#000000" stroke-width="3" stroke-linecap="butt"/>
<line x1="1219.2" y1="723.64" x2="1230.5" y2="723.64" stroke="#000000" stroke-width="3" stroke-linecap="butt"/>
<line x1="1219.2" y1="672.76" x2="1230.5" y2="672.76" stroke="#000000" stroke-width="3" stroke-linecap="butt"/>
<line x1="1219.2" y1="621.88" x2="1230.5" y2="621.88" stroke="#000000" stroke-width="3" stroke-linecap="butt"/>
<line x1="1219.2" y1="571" x2="1230.5" y2="571" stroke="#000000" stroke-width="3" stroke-linecap="butt"/>
<line x1="1230.5" y1="825.4" x2="1230.5" y2="836.7" stroke="#000000" stroke-width="3" stroke-linecap="butt"/>
<line x1="1306.58" y1="825.4" x2="1306.58" y2="836.7" stroke="#000000" stroke-width="3" stroke-linecap="butt"/>
<line x1="1382.66" y1="825.4" x2="1382.66" y2="836.7" stroke="#000000" stroke-width="3" stroke-linecap="butt"/>
<line x1="1458.74" y1="825.4" x2="1458.74" y2="836.7" stroke="#000000" stroke-width="3" stroke-linecap="butt"/>
<line x1="1534.82" y1="825.4" x2="1534.82" y2="836.7" stroke="#000000" stroke-width="3" stroke-linecap="butt"/>
<line x1="1610.9" y1="825.4" x2="1610.9" y2="836.7" stroke="#000000" stroke-width="3" stroke-linecap="butt"/>
<path d="M1230.5,802.5 L1233.35,797.29 L1236.21,792.24 L1239.06,787.34 L1241.91,782.6 L1244.77,777.99 L1247.62,773.53 L1250.47,769.21 L1253.32,765.01 L1256.18,760.95 L1259.03,757.01 L1261.88,753.19 L1264.74,749.48 L1267.59,745.89 L1270.44,742.41 L1273.3,739.04 L1276.15,735.77 L1279,732.6 L1281.85,729.52 L1284.71,726.54 L1287.56,723.66 L1290.41,720.86 L1293.27,718.14 L1296.12,715.51 L1298.97,712.96 L1301.83,710.48 L1304.68,708.09 L1307.53,705.76 L1310.38,703.51 L1313.24,701.32 L1316.09,699.21 L1318.94,697.15 L1321.8,695.16 L1324.65,693.23 L1327.5,691.36 L1330.36,689.55 L1333.21,687.79 L1336.06,686.09 L1338.91,684.44 L1341.77,682.83 L1344.62,681.28 L1347.47,679.78 L1350.33,678.32 L1353.18,676.9 L1356.03,675.53 L1358.88,674.2 L1361.74,672.92 L1364.59,671.67 L1367.44,670.45 L1370.3,669.28 L1373.15,668.14 L1376,667.04 L1378.86,665.97 L1381.71,664.93 L1384.56,663.93 L1387.41,662.95 L1390.27,662.01 L1393.12,661.09 L1395.97,660.21 L1398.83,659.34 L1401.68,658.51 L1404.53,657.7 L1407.39,656.92 L1410.24,656.16 L1413.09,655.42 L1415.95,654.71 L1418.8,654.01 L1421.65,653.34 L1424.5,652.69 L1427.36,652.06 L1430.21,651.45 L1433.06,650.86 L1435.92,650.28 L1438.77,649.72 L1441.62,649.18 L1444.47,648.66 L1447.33,648.15 L1450.18,647.66 L1453.03,647.18 L1455.89,646.72 L1458.74,646.27 L1461.59,645.84 L1464.45,645.42 L1467.3,645.01 L1470.15,644.61 L1473.01,644.23 L1475.86,643.86 L1478.71,643.5 L1481.56,643.15 L1484.42,642.81 L1487.27,642.48 L1490.12,642.16 L1492.98,641.85 L1495.83,641.55 L1498.68,641.26 L1501.54,640.98 L1504.39,640.71 L1507.24,640.44 L1510.09,640.19 L1512.95,639.94 L1515.8,639.7 L1518.65,639.46 L1521.51,639.24 L1524.36,639.02 L1527.21,638.8 L1530.07,638.6 L1532.92,638.4 L1535.77,638.2 L1538.62,638.02 L1541.48,637.83 L1544.33,637.66 L1547.18,637.49 L1550.04,637.32 L1552.89,637.16 L1555.74,637 L1558.6,636.85 L1561.45,636.7 L1564.3,636.56 L1567.15,636.42 L1570.01,636.29 L1572.86,636.16" fill="none" stroke="#6cc644" stroke-width="3.1" stroke-linecap="round" stroke-linejoin="round"/>
<line x1="1238.11" y1="762.82" x2="1238.11" y2="776.56" stroke="#6cc644" stroke-width="3" stroke-linecap="butt"/>
<line x1="1231.86" y1="762.82" x2="1244.36" y2="762.82" stroke="#6cc644" stroke-width="3" stroke-linecap="butt"/>
<line x1="1231.86" y1="776.56" x2="1244.36" y2="776.56" stroke="#6cc644" stroke-width="3" stroke-linecap="butt"/>
<polygon points="1238.11,764.43 1243.11,769.43 1238.11,774.43 1233.11,769.43" fill="#6cc644"/>
<polygon points="1249.52,759.34 1254.52,764.34 1249.52,769.34 1244.52,764.34" fill="#6cc644"/>
<line x1="1268.54" y1="731.53" x2="1268.54" y2="745.77" stroke="#6cc644" stroke-width="3" stroke-linecap="butt"/>
<line x1="1262.29" y1="731.53" x2="1274.79" y2="731.53" stroke="#6cc644" stroke-width="3" stroke-linecap="butt"/>
<line x1="1262.29" y1="745.77" x2="1274.79" y2="745.77" stroke="#6cc644" stroke-width="3" stroke-linecap="butt"/>
<polygon points="1268.54,734.41 1273.54,739.41 1268.54,744.41 1263.54,739.41" fill="#6cc644"/>
<polygon points="1306.58,712.03 1311.58,717.03 1306.58,722.03 1301.58,717.03" fill="#6cc644"/>
<line x1="1382.66" y1="660.55" x2="1382.66" y2="681.66" stroke="#6cc644" stroke-width="3" stroke-linecap="butt"/>
<line x1="1376.41" y1="660.55" x2="1388.91" y2="660.55" stroke="#6cc644" stroke-width="3" stroke-linecap="butt"/>
<line x1="1376.41" y1="681.66" x2="1388.91" y2="681.66" stroke="#6cc644" stroke-width="3" stroke-linecap="butt"/>
<polygon points="1382.66,666.23 1387.66,671.23 1382.66,676.23 1377.66,671.23" fill="#6cc644"/>
<line x1="1458.74" y1="626.97" x2="1458.74" y2="664.11" stroke="#6cc644" stroke-width="3" stroke-linecap="butt"/>
<line x1="1452.49" y1="626.97" x2="1464.99" y2="626.97" stroke="#6cc644" stroke-width="3" stroke-linecap="butt"/>
<line x1="1452.49" y1="664.11" x2="1464.99" y2="664.11" stroke="#6cc644" stroke-width="3" stroke-linecap="butt"/>
<polygon points="1458.74,641.3 1463.74,646.3 1458.74,651.3 1453.74,646.3" fill="#6cc644"/>
<line x1="1572.86" y1="620.86" x2="1572.86" y2="646.81" stroke="#6cc644" stroke-width="3" stroke-linecap="butt"/>
<line x1="1566.61" y1="620.86" x2="1579.11" y2="620.86" stroke="#6cc644" stroke-width="3" stroke-linecap="butt"/>
<line x1="1566.61" y1="646.81" x2="1579.11" y2="646.81" stroke="#6cc644" stroke-width="3" stroke-linecap="butt"/>
<polygon points="1572.86,629.09 1577.86,634.09 1572.86,639.09 1567.86,634.09" fill="#6cc644"/>
<path d="M1230.5,825.4 L1233.35,825.18 L1236.21,824.96 L1239.06,824.76 L1241.91,824.56 L1244.77,824.37 L1247.62,824.2 L1250.47,824.03 L1253.32,823.86 L1256.18,823.71 L1259.03,823.56 L1261.88,823.41 L1264.74,823.28 L1267.59,823.15 L1270.44,823.02 L1273.3,822.9 L1276.15,822.79 L1279,822.68 L1281.85,822.58 L1284.71,822.48 L1287.56,822.38 L1290.41,822.29 L1293.27,822.2 L1296.12,822.12 L1298.97,822.04 L1301.83,821.96 L1304.68,821.89 L1307.53,821.82 L1310.38,821.76 L1313.24,821.69 L1316.09,821.63 L1318.94,821.57 L1321.8,821.52 L1324.65,821.46 L1327.5,821.41 L1330.36,821.37 L1333.21,821.32 L1336.06,821.27 L1338.91,821.23 L1341.77,821.19 L1344.62,821.15 L1347.47,821.12 L1350.33,821.08 L1353.18,821.05 L1356.03,821.01 L1358.88,820.98 L1361.74,820.95 L1364.59,820.93 L1367.44,820.9 L1370.3,820.87 L1373.15,820.85 L1376,820.82 L1378.86,820.8 L1381.71,820.78 L1384.56,820.76 L1387.41,820.74 L1390.27,820.72 L1393.12,820.7 L1395.97,820.69 L1398.83,820.67 L1401.68,820.65 L1404.53,820.64 L1407.39,820.62 L1410.24,820.61 L1413.09,820.6 L1415.95,820.59 L1418.8,820.57 L1421.65,820.56 L1424.5,820.55 L1427.36,820.54 L1430.21,820.53 L1433.06,820.52 L1435.92,820.51 L1438.77,820.5 L1441.62,820.49 L1444.47,820.49 L1447.33,820.48 L1450.18,820.47 L1453.03,820.46 L1455.89,820.46 L1458.74,820.45 L1461.59,820.44 L1464.45,820.44 L1467.3,820.43 L1470.15,820.43 L1473.01,820.42 L1475.86,820.42 L1478.71,820.41 L1481.56,820.41 L1484.42,820.4 L1487.27,820.4 L1490.12,820.4 L1492.98,820.39 L1495.83,820.39 L1498.68,820.39 L1501.54,820.38 L1504.39,820.38 L1507.24,820.38 L1510.09,820.37 L1512.95,820.37 L1515.8,820.37 L1518.65,820.37 L1521.51,820.36 L1524.36,820.36 L1527.21,820.36 L1530.07,820.36 L1532.92,820.36 L1535.77,820.35 L1538.62,820.35 L1541.48,820.35 L1544.33,820.35 L1547.18,820.35 L1550.04,820.34 L1552.89,820.34 L1555.74,820.34 L1558.6,820.34 L1561.45,820.34 L1564.3,820.34 L1567.15,820.34 L1570.01,820.34 L1572.86,820.33" fill="none" stroke="#000000" stroke-width="3" stroke-linecap="round" stroke-linejoin="round"/>
<circle cx="1230.5" cy="825.4" r="5" fill="#000000"/>
<circle cx="1249.52" cy="818.28" r="5" fill="#000000"/>
<circle cx="1268.54" cy="818.28" r="5" fill="#000000"/>
<circle cx="1382.66" cy="814.21" r="5" fill="#000000"/>
<circle cx="1458.74" cy="825.4" r="5" fill="#000000"/>
<circle cx="1572.86" cy="821.33" r="5" fill="#000000"/>
<text x="1202.25" y="578.4" font-size="32.3" text-anchor="middle">50</text>
<text x="1200" y="627.15" font-size="32.3" text-anchor="middle">40</text>
<text x="1199" y="680.4" font-size="32.3" text-anchor="middle">30</text>
<text x="1200.38" y="731.65" font-size="32.3" text-anchor="middle">20</text>
<text x="1199.62" y="780.9" font-size="32.3" text-anchor="middle">10</text>
<text x="1203.6" y="833.3" font-size="32.3" text-anchor="middle">0</text>
<text x="1226.88" y="873.1" font-size="32.3" text-anchor="middle">0</text>
<text x="1308.75" y="873.1" font-size="32.3" text-anchor="middle">20</text>
<text x="1383.38" y="873.1" font-size="32.3" text-anchor="middle">40</text>
<text x="1456.62" y="873.1" font-size="32.3" text-anchor="middle">60</text>
<text x="1534.38" y="873.1" font-size="32.3" text-anchor="middle">80</text>
<text x="1609.5" y="873.1" font-size="32.3" text-anchor="middle">100</text>
<text x="1427.25" y="913.15" font-size="32.3" text-anchor="middle">Time (s)</text>
<text x="1157.25" y="779" font-size="32.3" transform="rotate(-90 1157.25 779)">Release (%)</text>
<text x="1101.5" y="531.4" font-size="39" font-weight="bold">g</text>
<line x1="1249.75" y1="569.5" x2="1277" y2="569.5" stroke="#000000" stroke-width="3.2" stroke-linecap="round"/>
<circle cx="1263.38" cy="569.5" r="4.75" fill="#000000"/>
<text x="1292" y="578.4" font-size="32.3">Without FUS</text>
<line x1="1249.75" y1="605" x2="1277" y2="605" stroke="#6cc644" stroke-width="3.4" stroke-linecap="round"/>
<polygon points="1263.38,600 1268.12,605 1263.38,610 1258.62,605" fill="#6cc644"/>
<text x="1334.5" y="610.4" font-size="32.3">FUS</text>
<path d="M1784.55,828.3 L1784.55,824.25 L1826.65,824.25 L1826.65,828.3" fill="none" stroke="#000000" stroke-width="3.4" stroke-linejoin="miter"/>
<line x1="1805.6" y1="820.5" x2="1805.6" y2="825.5" stroke="#000000" stroke-width="2.6" stroke-linecap="butt"/>
<line x1="1793.1" y1="820.5" x2="1818.1" y2="820.5" stroke="#000000" stroke-width="2.6" stroke-linecap="butt"/>
<line x1="1793.1" y1="825.5" x2="1818.1" y2="825.5" stroke="#000000" stroke-width="2.6" stroke-linecap="butt"/>
<circle cx="1787" cy="823.9" r="5" fill="#000000"/>
<circle cx="1805.25" cy="821.8" r="5" fill="#000000"/>
<circle cx="1824" cy="823" r="5" fill="#000000"/>
<path d="M1854.25,828.3 L1854.25,811.28 L1896.35,811.28 L1896.35,828.3" fill="none" stroke="#ee3124" stroke-width="3.4" stroke-linejoin="miter"/>
<line x1="1875.3" y1="806.5" x2="1875.3" y2="812" stroke="#ee3124" stroke-width="2.6" stroke-linecap="butt"/>
<line x1="1862.8" y1="806.5" x2="1887.8" y2="806.5" stroke="#ee3124" stroke-width="2.6" stroke-linecap="butt"/>
<line x1="1862.8" y1="812" x2="1887.8" y2="812" stroke="#ee3124" stroke-width="2.6" stroke-linecap="butt"/>
<circle cx="1857" cy="811" r="5" fill="#ee3124"/>
<circle cx="1875" cy="806.2" r="5" fill="#ee3124"/>
<circle cx="1893.25" cy="810.2" r="5" fill="#ee3124"/>
<path d="M1924.25,828.3 L1924.25,770.63 L1966.35,770.63 L1966.35,828.3" fill="none" stroke="#3f5caa" stroke-width="3.4" stroke-linejoin="miter"/>
<line x1="1945.3" y1="767" x2="1945.3" y2="772.75" stroke="#3f5caa" stroke-width="2.6" stroke-linecap="butt"/>
<line x1="1932.8" y1="767" x2="1957.8" y2="767" stroke="#3f5caa" stroke-width="2.6" stroke-linecap="butt"/>
<line x1="1932.8" y1="772.75" x2="1957.8" y2="772.75" stroke="#3f5caa" stroke-width="2.6" stroke-linecap="butt"/>
<circle cx="1926.5" cy="771" r="5" fill="#3f5caa"/>
<circle cx="1944.5" cy="766.5" r="5" fill="#3f5caa"/>
<circle cx="1963.25" cy="770.25" r="5" fill="#3f5caa"/>
<path d="M1993.95,828.3 L1993.95,713.58 L2036.05,713.58 L2036.05,828.3" fill="none" stroke="#6cc644" stroke-width="3.4" stroke-linejoin="miter"/>
<line x1="2015" y1="697" x2="2015" y2="725" stroke="#6cc644" stroke-width="2.6" stroke-linecap="butt"/>
<line x1="2002.5" y1="697" x2="2027.5" y2="697" stroke="#6cc644" stroke-width="2.6" stroke-linecap="butt"/>
<line x1="2002.5" y1="725" x2="2027.5" y2="725" stroke="#6cc644" stroke-width="2.6" stroke-linecap="butt"/>
<circle cx="2004.5" cy="700.75" r="5" fill="#6cc644"/>
<circle cx="2025.2" cy="706.3" r="5" fill="#6cc644"/>
<circle cx="2014.5" cy="726.75" r="5" fill="#6cc644"/>
<path d="M2063.75,828.3 L2063.75,634.39 L2105.85,634.39 L2105.85,828.3" fill="none" stroke="#ee7d31" stroke-width="3.4" stroke-linejoin="miter"/>
<line x1="2084.8" y1="608.7" x2="2084.8" y2="656.2" stroke="#ee7d31" stroke-width="2.6" stroke-linecap="butt"/>
<line x1="2072.3" y1="608.7" x2="2097.3" y2="608.7" stroke="#ee7d31" stroke-width="2.6" stroke-linecap="butt"/>
<line x1="2072.3" y1="656.2" x2="2097.3" y2="656.2" stroke="#ee7d31" stroke-width="2.6" stroke-linecap="butt"/>
<circle cx="2084.3" cy="606.3" r="5" fill="#ee7d31"/>
<circle cx="2084.3" cy="640" r="5" fill="#ee7d31"/>
<circle cx="2084.3" cy="651.25" r="5" fill="#ee7d31"/>
<line x1="1759" y1="577.5" x2="1759" y2="829.7" stroke="#000000" stroke-width="2.8" stroke-linecap="butt"/>
<line x1="1757.6" y1="828.3" x2="2131.5" y2="828.3" stroke="#000000" stroke-width="2.8" stroke-linecap="butt"/>
<line x1="1748" y1="828.3" x2="1759" y2="828.3" stroke="#000000" stroke-width="2.8" stroke-linecap="butt"/>
<line x1="1748" y1="765.95" x2="1759" y2="765.95" stroke="#000000" stroke-width="2.8" stroke-linecap="butt"/>
<line x1="1748" y1="703.6" x2="1759" y2="703.6" stroke="#000000" stroke-width="2.8" stroke-linecap="butt"/>
<line x1="1748" y1="641.25" x2="1759" y2="641.25" stroke="#000000" stroke-width="2.8" stroke-linecap="butt"/>
<line x1="1748" y1="578.9" x2="1759" y2="578.9" stroke="#000000" stroke-width="2.8" stroke-linecap="butt"/>
<line x1="1805.6" y1="828.3" x2="1805.6" y2="838.8" stroke="#000000" stroke-width="2.8" stroke-linecap="butt"/>
<line x1="1875.3" y1="828.3" x2="1875.3" y2="838.8" stroke="#000000" stroke-width="2.8" stroke-linecap="butt"/>
<line x1="1945.3" y1="828.3" x2="1945.3" y2="838.8" stroke="#000000" stroke-width="2.8" stroke-linecap="butt"/>
<line x1="2015" y1="828.3" x2="2015" y2="838.8" stroke="#000000" stroke-width="2.8" stroke-linecap="butt"/>
<line x1="2084.8" y1="828.3" x2="2084.8" y2="838.8" stroke="#000000" stroke-width="2.8" stroke-linecap="butt"/>
<text x="1728.38" y="589.45" font-size="32.3" text-anchor="middle">80</text>
<text x="1727" y="648.95" font-size="32.3" text-anchor="middle">60</text>
<text x="1727.62" y="711.95" font-size="32.3" text-anchor="middle">40</text>
<text x="1726.38" y="770.95" font-size="32.3" text-anchor="middle">20</text>
<text x="1730.25" y="835.8" font-size="32.3" text-anchor="middle">0</text>
<text x="1673.25" y="779" font-size="32.3" transform="rotate(-90 1673.25 779)">Release (%)</text>
<text x="1630" y="535.7" font-size="39" font-weight="bold">h</text>
<path d="M1805.25,625.5 L1805.25,576.25 L2084.5,576.25 L2084.5,591.25" fill="none" stroke="#000" stroke-width="3" stroke-linejoin="miter" stroke-linecap="round"/>
<path d="M1805.25,691.25 L1805.25,656.25 L2014.5,656.25 L2014.5,682.5" fill="none" stroke="#000" stroke-width="3" stroke-linejoin="miter" stroke-linecap="round"/>
<path d="M1805.25,756.5 L1805.25,721.6 L1945.25,721.6 L1945.25,752.75" fill="none" stroke="#000" stroke-width="3" stroke-linejoin="miter" stroke-linecap="round"/>
<path d="M1805.25,807 L1805.25,771 L1875,771 L1875,791.5" fill="none" stroke="#000" stroke-width="1.7" stroke-linejoin="miter" stroke-linecap="round"/>
<text x="1880.5" y="556.25" font-size="23.9"><tspan font-style="italic">P</tspan> &lt; 0.0001</text>
<text x="1932.25" y="578.7" font-size="23.9" text-anchor="middle">****</text>
<text x="1844.5" y="627" font-size="23.9"><tspan font-style="italic">P</tspan> &lt; 0.0001</text>
<text x="1891.75" y="653.7" font-size="23.9" text-anchor="middle">****</text>
<text x="1824.5" y="692.1" font-size="23.9"><tspan font-style="italic">P</tspan> = 0.0012</text>
<text x="1863.25" y="718.7" font-size="23.9" text-anchor="middle">**</text>
<text x="1809" y="744.5" font-size="23.9"><tspan font-style="italic">P</tspan> = 0.47</text>
<text x="1845.2" y="762.7" font-size="23.9" text-anchor="middle">ns</text>
<text x="1792.8" y="886.6" font-size="32.3" text-anchor="middle" transform="rotate(-45 1792.8 886.6)">0 MPa</text>
<text x="1860.4" y="890.8" font-size="32.3" text-anchor="middle" transform="rotate(-45 1860.4 890.8)">0.51 MPa</text>
<text x="1930.4" y="890.8" font-size="32.3" text-anchor="middle" transform="rotate(-45 1930.4 890.8)">0.89 MPa</text>
<text x="2000.1" y="890" font-size="32.3" text-anchor="middle" transform="rotate(-45 2000.1 890)">1.08 MPa</text>
<text x="2071.9" y="889.8" font-size="32.3" text-anchor="middle" transform="rotate(-45 2071.9 889.8)">1.55 MPa</text>
</svg>
</body>
</html>
